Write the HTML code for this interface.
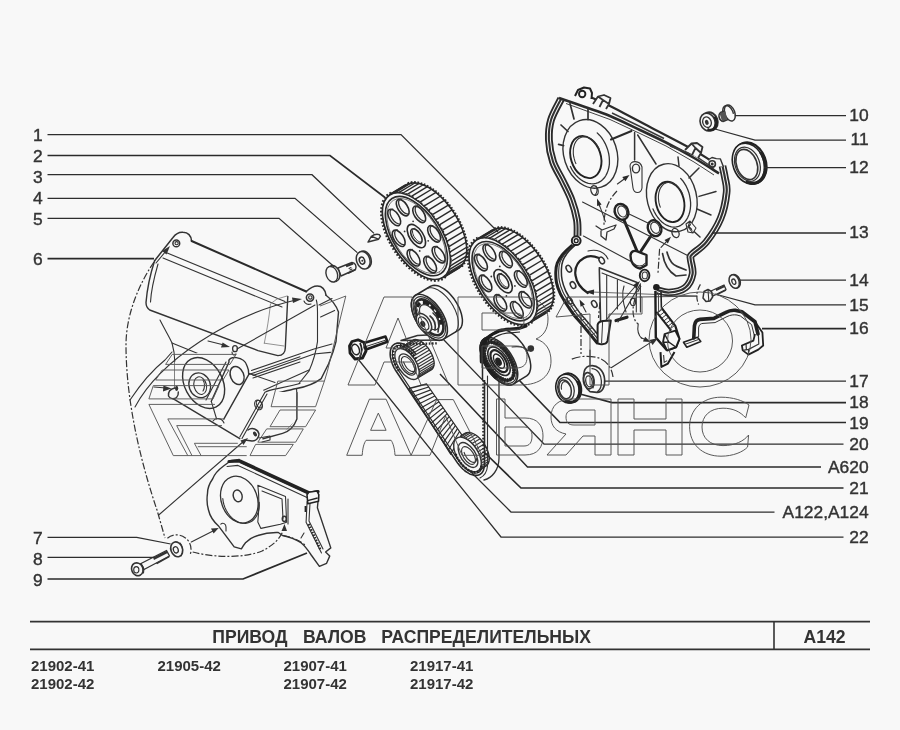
<!DOCTYPE html>
<html><head><meta charset="utf-8">
<style>
html,body{margin:0;padding:0;background:#f8f8f8;}
body{width:900px;height:730px;overflow:hidden;font-family:"Liberation Sans",sans-serif;}
svg{display:block;position:absolute;left:0;top:0;will-change:transform;}
text{font-family:"Liberation Sans",sans-serif;fill:#333;}
.lb{font-size:17.4px;stroke:#333;stroke-width:0.4;}
.ld{fill:none;stroke:#2e2e2e;stroke-width:1.25;}
.ldb{fill:none;stroke:#2a2a2a;stroke-width:1.7;}
.p{fill:none;stroke:#333;stroke-width:1.1;stroke-linejoin:round;stroke-linecap:round;}
.pf{fill:#f8f8f8;stroke:#333;stroke-width:1.1;stroke-linejoin:round;}
.pb{fill:none;stroke:#2a2a2a;stroke-width:2;stroke-linejoin:round;stroke-linecap:round;}
.pt{fill:none;stroke:#444;stroke-width:0.8;stroke-linejoin:round;stroke-linecap:round;}
.wm{fill:none;stroke:#505050;stroke-width:0.95;stroke-linejoin:round;}
.dash{fill:none;stroke:#333;stroke-width:1.2;stroke-dasharray:7 2 2 2;}
.bt{font-weight:bold;font-size:17.6px;}
.bc{font-weight:bold;font-size:15px;}
</style></head><body>
<svg width="900" height="730" viewBox="0 0 900 730">
<rect width="900" height="730" fill="#f8f8f8"/>

<!-- WATERMARK -->


<!-- PARTS -->
<g id="parts">
<path d="M154.6,260.7 L173,237.5 L183,232.3 L190.4,234.8 L191.6,241 L306,291.5 L317,286 L324.7,289 L326,295 L333.5,302 L338.5,312 L336,341.6 L328.6,363.8 L321,378.6 L296.6,388.5 L264.5,395.8 L250,372 L236,357 L226,361 L176,340 L160,320 L149.7,310 L146,302.6Z" fill="#f8f8f8"/>
<path class="p" style="stroke-width:1.5" d="M154.6,260.7 L173,237.5 C176,233.5 180,232 183,232.3 C188,232.5 191,235 191.6,241"/>
<circle class="p" cx="176.3" cy="243.4" r="3.4" style="stroke-width:1.5"/><circle class="p" cx="176.6" cy="243.2" r="1.6"/>
<path class="pb" d="M191.6,241 L306.2,291.5"/>
<path class="p" style="stroke-width:1.5" d="M306.2,291.5 C310,288 314,286 317.3,286 C322,286 325,289 326,295.2"/>
<circle class="p" cx="310" cy="297.6" r="3.6" style="stroke-width:1.6"/><circle class="p" cx="310.3" cy="297.4" r="1.7"/>
<path class="p" d="M304,301 C305,304 308,305 311,304"/>
<path class="p" d="M166,252.5 L285,301.5 M163,258 L282,307"/>
<path class="p" style="stroke-width:1.4" d="M154.6,260.7 C150,275 147,290 146,302.6 C146,306 147.5,308.5 149.7,310 L258,350.6 L277.9,355.6 C283,355.5 285.3,352 285.3,348 L287.8,296.4"/>
<path class="p" d="M158,264 C154,278 151,292 150.5,302"/>
<path class="pt" style="stroke:#777" d="M264.3,343.2 C267,330 269,318 270.5,303.8 L277,299 L287,296 M264.3,343.2 L284,346"/>
<path class="p" d="M160,320 C165,330 170,338 172,343 C174,350 174.8,356 174.8,362 L174.8,388"/>
<path class="p" d="M172,343 L236,369 L275,382.5"/>
<path class="p" style="stroke-width:1.4" d="M326,295.2 C331,299 336,305 338.5,312 L336,341.6 C334,350 331,358 328.6,363.8 L321.2,378.6 C314,384 305,387 296.6,388.5 C285,391 274,394 264.5,395.8"/>
<path class="p" d="M316.3,300 C317.5,304 317.5,308 317.5,312 L317.5,341.6 C316,352 313,362 308.9,371.2 L299,383.5"/>
<path class="p" d="M319,305 L332,298.6 M320.6,317 L334.6,310.4 M314,349 L332,344 M314,354 L330.5,352.4 M251.5,370.5 L314,349 M253,375.4 L314,354 M262,391 L309,370 M237,349 L315,305"/>
<path class="p" d="M296.6,388.5 C297,398 297,408 295.3,418 C291,426 285,431 279.3,432.8 L259.6,437.8"/>
<ellipse class="p" cx="235" cy="348.7" rx="2.4" ry="3" style="stroke-width:1.3"/>
<path class="p" d="M208,341 L224,345"/><path d="M230,347 L221,347.6 L222.6,342.6Z" fill="#333"/>
<path class="p" d="M232,352 C232,355 234,356 236,354"/>
<path d="M174.8,362 L174.8,388 L168.5,396 L173,398.6 L239.8,438.7 L254,440 L263,438.7 L282.6,433.4 L296.9,419 L296.9,392 L264.8,392 L248.7,374.6 L247,365.7 L236.3,357.6 L225.6,360.3 L200,352Z" fill="#f8f8f8"/>
<ellipse class="p" cx="203.6" cy="383" rx="27" ry="19" transform="rotate(62 203.6 383)" style="stroke-width:1.4"/>
<ellipse class="p" cx="199.7" cy="385.3" rx="12.6" ry="10.6" transform="rotate(70 199.7 385.3)" style="stroke-width:1.3"/>
<ellipse class="p" cx="200.2" cy="385.6" rx="9" ry="6.2" transform="rotate(75 200.2 385.6)" />
<path class="p" d="M203,380 C205,383 205,388 203,391"/>
<path class="p" style="stroke-width:1.4" d="M174.8,388 C170,389 168,392 168.5,396 C170,399 174,399.5 176.5,397.5 C178,396 178.5,394 178.3,392"/>
<ellipse cx="176.6" cy="388.3" rx="1.6" ry="2.6" fill="#333"/>
<path class="p" d="M154,387 L166,388"/><path d="M171.5,388.6 L163,391.4 L163.4,385.4Z" fill="#333"/>
<path class="p" style="stroke-width:1.4" d="M173,398.6 L239.8,438.7"/>
<path class="p" style="stroke-width:1.4" d="M211.3,401.3 L229,362 C228,359 232,357 236.3,357.6 C242,358.5 246,362 247,365.7 C248.5,369 249,372 248.7,374.6 L223.8,419.1"/>
<ellipse class="p" cx="237.1" cy="375.5" rx="6.6" ry="9.4" transform="rotate(-22 237.1 375.5)" style="stroke-width:1.5"/>
<path class="p" d="M226,362 L206,400 M211.3,401.3 L216.6,419 M213,421 C216,417 222,418 224,423"/>
<path class="p" d="M248.7,374.6 L300,356.7 M253,378 L300,362"/>
<path class="p" d="M264.8,392.4 C270,389 280,389 300,383.5 M264.8,392.4 L239.8,437 M267,394 L242,438.5"/>
<ellipse class="p" cx="258.5" cy="404.9" rx="3.6" ry="5" transform="rotate(-25 258.5 404.9)"/><ellipse class="p" cx="259.5" cy="404.5" rx="2.6" ry="4" transform="rotate(-25 258.5 404.9)"/>
<path class="p" style="stroke-width:1.4" d="M296.9,392.4 L296.9,419.1 C294,427 288,432 282.6,433.4 L263,438.7"/>
<path class="p" style="stroke-width:1.4" d="M248,430 C252,427 258,429 259,434 C259,438 256,441 252,441 L245,440"/>
<ellipse cx="255" cy="434" rx="1.7" ry="2.6" fill="#333" transform="rotate(-30 255 434)"/>
<path class="p" d="M259,438 L270,436 L270,440 L262,442"/>
<path d="M223.9,465.7 C218,470 214,475 212.6,479 C209,484 207.5,489 207.5,493.4 C206.5,500 207,505 208.5,510 C210,517 214,522 218.8,526.3 L234.2,546.8 L241.4,548.9 C243,546 244,544.5 245.5,542.7 C249,539 253,537 257.8,535.5 C265,533 272,532.3 278.3,532.5 L282.5,535.5 C290,537 296,539.5 301,542.7 C305,546 308,550 311.2,555 L319.4,566.4 L326.6,563.3 L329.7,556.1 L325.6,552 L330.8,547.9 L317.4,507.8 L318.4,497.5 L317.4,492.4 L309.2,494.4 L240.3,462.6 L239.3,459.5 L231.1,460.5Z" fill="#f8f8f8" stroke="#333" stroke-width="1.4" stroke-linejoin="round"/>
<path d="M229,461.5 L240,461 L309.5,493 L318,491.5" fill="none" stroke="#222" stroke-width="3.2" stroke-linejoin="round" stroke-linecap="round"/>
<path class="p" d="M227,466.5 L238,465.4 L307,497.4"/>
<ellipse class="p" cx="239.3" cy="499.6" rx="24" ry="18" transform="rotate(70 239.3 499.6)" style="stroke-width:1.3"/>
<path class="p" d="M259.2,502.4 L259.3,505.4 L259.1,508.3 L258.6,511 L257.7,513.6 L256.6,515.9 L255.2,518 L253.6,519.8 L251.8,521.2 L249.7,522.3 L247.6,523 L245.3,523.4 L242.9,523.3 L240.5,522.9 L238.2,522 L235.8,520.8 L233.6,519.3 L231.4,517.4 L229.5,515.3 L227.7,512.8 L226.2,510.2 L224.9,507.4 L223.9,504.5 L223.2,501.6 L222.8,498.6"/>
<ellipse class="p" cx="237.7" cy="495.9" rx="4.4" ry="6" transform="rotate(-15 237.7 495.9)" style="stroke-width:1.4"/>
<path class="p" d="M257.8,485.2 L285.5,496.5 L286.6,522.2 L280.4,524.2 L260.9,528.4 L257.8,522 C259,510 259.5,498 257.8,485.2Z M262,491 L282,499 L283,519"/>
<ellipse class="p" cx="284.3" cy="518.8" rx="2" ry="2.6" style="stroke-width:1.5"/>
<path class="p" d="M288,499 L288,524"/>
<path class="p" d="M220.8,524.2 C223,522 226,524 226,527 L226,531"/>
<path class="p" d="M307.1,501.6 L306.1,522.2 L321.5,553 M310,503 L309,521 L323,549"/>
<path d="M308.6,524 L320.4,549.6" fill="none" stroke="#2a2a2a" stroke-width="2.4" stroke-dasharray="1.6 1.3"/>
<path d="M307,494.7 L308.7,492.2 L316.9,491 L318.8,494.7 L318.5,501.3 L307.8,503.7Z" fill="#f8f8f8" stroke="#222" stroke-width="1.6" stroke-linejoin="round"/>
<path d="M307.6,500.6 L317.6,498" fill="none" stroke="#222" stroke-width="1.3"/>
<path d="M305.6,506 L305.6,512" fill="none" stroke="#222" stroke-width="2"/>
<path class="p" d="M301,538 L304,533"/>
<path class="dash" d="M154,262 C135,290 126,320 126,345 C126,400 140,460 157,510 L165,538"/>
<path class="p" d="M135,407 C160,360 230,315 296,300"/><path d="M302,299 L293,303 L292,297.5Z" fill="#333"/>
<path class="p" d="M156,263 L166,251"/><path d="M170,246 L166.5,254.5 L162,251Z" fill="#333"/>
<path class="p" d="M158.7,515 L244,441"/>
<path d="M248,438 L240.5,440.5 L243.5,445Z" fill="#333"/>
<path class="p" d="M130,400 C140,385 150,372 165,360 L172,352"/>
<path class="dash" d="M167.4,538.2 A14.5,14.5 0 0 1 189.8,555.4"/>
<path class="p" d="M191.3,542 L214,530.5"/><path d="M218.7,528 L211,528.6 L213.6,533.6Z" fill="#333"/>
<path class="dash" d="M192.7,552 C215,558 245,558 262,551 C274,545 281,538 284,528"/><path d="M284.5,524 L281.5,531 L287,531Z" fill="#333"/>
<path class="dash" d="M283,535.5 C292,537 300,541 305,545"/>
<ellipse class="pf" cx="176.7" cy="549.3" rx="5.8" ry="7.6" transform="rotate(-20 176.7 549.3)" style="stroke-width:1.6"/>
<path class="p" d="M180,543 C183,546 183.5,552 181,556"/>
<ellipse class="p" cx="175.8" cy="549.8" rx="2.4" ry="3.2" transform="rotate(-20 175.8 549.8)" style="stroke-width:1.3"/>
<path class="pf" style="stroke-width:1.4" d="M141,563.5 L166.5,550.5 L169.5,556 L144,569.5Z"/>
<path d="M153,557.5 L166.5,550.7 L167.7,553 L154,560Z M156,563 L168.8,556 L169.5,557.3 L157,564.3Z" fill="#333"/>
<ellipse class="pf" cx="137.3" cy="569.3" rx="5.6" ry="6.6" transform="rotate(-25 137.3 569.3)" style="stroke-width:1.6"/>
<path class="p" d="M140,563.5 C143,565 144.5,569 143.5,573"/>
<ellipse class="p" cx="136.3" cy="569.8" rx="2.6" ry="3.2"/>
<path d="M560,99 L577,91 L711,159 L722,161 C729,170 729,192 723,214 C716,232 708,243 693,255 L692,274 C690,284 684,290 670,291 L657,288 L640,300 L608,343 L598,343 C570,318 556,300 556,280 C556,265 562,250 576,238 C577,225 576,212 570,200 C560,185 548,160 547,140 C546,125 550,110 560,99Z" fill="#f8f8f8" stroke="none"/>
<path d="M561.2,98.7 C559.5,102.2 553,113.2 551,120 C549,126.8 548.6,132.9 548.9,139.8 C549.2,146.8 550.7,154.8 553,161.7 C555.3,168.5 559.5,174.5 562.6,180.9 C565.7,187.3 569.1,193.5 571.5,200 C573.9,206.5 576,214 577,220 C578,226 577.4,233.3 577.5,236" fill="none" stroke="#2a2a2a" stroke-width="7.8" stroke-linejoin="round" stroke-linecap="butt"/><path d="M561.2,98.7 C559.5,102.2 553,113.2 551,120 C549,126.8 548.6,132.9 548.9,139.8 C549.2,146.8 550.7,154.8 553,161.7 C555.3,168.5 559.5,174.5 562.6,180.9 C565.7,187.3 569.1,193.5 571.5,200 C573.9,206.5 576,214 577,220 C578,226 577.4,233.3 577.5,236" fill="none" stroke="#f8f8f8" stroke-width="4.06" stroke-linejoin="round" stroke-linecap="butt"/><path d="M561.2,98.7 C559.5,102.2 553,113.2 551,120 C549,126.8 548.6,132.9 548.9,139.8 C549.2,146.8 550.7,154.8 553,161.7 C555.3,168.5 559.5,174.5 562.6,180.9 C565.7,187.3 569.1,193.5 571.5,200 C573.9,206.5 576,214 577,220 C578,226 577.4,233.3 577.5,236" fill="none" stroke="#333" stroke-width="2.0599999999999996" stroke-linejoin="round"/>
<path d="M572.5,245 C570.9,246.5 565.5,251 563,254 C560.5,257 558.5,260 557.3,263 C556.1,266 555.9,268.7 555.8,272 C555.7,275.3 555.8,279.1 556.5,282.6 C557.2,286.1 558.4,289.4 560,293 C561.6,296.6 564.1,300.3 566.4,304 C568.7,307.7 571.3,311.4 574,315 C576.7,318.6 578.9,320.6 582.8,325.4 C586.7,330.1 595.1,340.5 597.6,343.5" fill="none" stroke="#222" stroke-width="3" stroke-linejoin="round"/>
<path d="M575.4,243.8 C573.8,245.3 568.4,249.8 565.9,252.8 C563.4,255.8 561.4,258.8 560.2,261.8 C559,264.8 558.8,267.5 558.7,270.8 C558.6,274.1 558.7,277.9 559.4,281.4 C560.1,284.9 561.2,288.2 562.9,291.8 C564.5,295.4 567,299.1 569.3,302.8 C571.6,306.5 574.2,310.2 576.9,313.8 C579.6,317.4 581.8,319.4 585.7,324.2 C589.6,328.9 598,339.3 600.5,342.3" fill="none" stroke="#333" stroke-width="1.1"/>
<path d="M578.1,242.6 C576.5,244.1 571.1,248.6 568.6,251.6 C566.1,254.6 564.1,257.6 562.9,260.6 C561.7,263.6 561.5,266.3 561.4,269.6 C561.3,272.9 561.4,276.7 562.1,280.2 C562.8,283.7 564,287 565.6,290.6 C567.2,294.2 569.7,297.9 572,301.6 C574.3,305.3 576.9,309 579.6,312.6 C582.3,316.2 584.5,318.2 588.4,323 C592.3,327.8 600.7,338.1 603.2,341.1" fill="none" stroke="#2a2a2a" stroke-width="1.5"/>
<line x1="566" y1="303" x2="571" y2="300" stroke="#333" stroke-width="0.9"/>
<line x1="569.6" y1="307.6" x2="574.6" y2="304.6" stroke="#333" stroke-width="0.9"/>
<line x1="573.2" y1="312.2" x2="578.2" y2="309.2" stroke="#333" stroke-width="0.9"/>
<line x1="576.8" y1="316.8" x2="581.8" y2="313.8" stroke="#333" stroke-width="0.9"/>
<line x1="580.4" y1="321.4" x2="585.4" y2="318.4" stroke="#333" stroke-width="0.9"/>
<line x1="584" y1="326" x2="589" y2="323" stroke="#333" stroke-width="0.9"/>
<line x1="587.6" y1="330.6" x2="592.6" y2="327.6" stroke="#333" stroke-width="0.9"/>
<line x1="591.2" y1="335.2" x2="596.2" y2="332.2" stroke="#333" stroke-width="0.9"/>
<path d="M722.5,166 C722.9,168 724.3,173.6 725,178 C725.7,182.4 727.4,185.9 726.6,192.7 C725.9,199.5 723.9,210.4 720.5,218.6 C717.1,226.8 711,236 706.3,242 C701.5,248 694.6,251.7 692,254.5 C689.4,257.3 690.5,255.8 690.6,259 C690.7,262.2 693.5,269.2 692.6,274 C691.7,278.8 689.2,284.5 685.3,287.6 C681.4,290.7 674,292.1 669.3,292.5 C664.6,292.9 659,290.4 657,290" fill="none" stroke="#2a2a2a" stroke-width="7.6" stroke-linejoin="round" stroke-linecap="butt"/><path d="M722.5,166 C722.9,168 724.3,173.6 725,178 C725.7,182.4 727.4,185.9 726.6,192.7 C725.9,199.5 723.9,210.4 720.5,218.6 C717.1,226.8 711,236 706.3,242 C701.5,248 694.6,251.7 692,254.5 C689.4,257.3 690.5,255.8 690.6,259 C690.7,262.2 693.5,269.2 692.6,274 C691.7,278.8 689.2,284.5 685.3,287.6 C681.4,290.7 674,292.1 669.3,292.5 C664.6,292.9 659,290.4 657,290" fill="none" stroke="#f8f8f8" stroke-width="4.199999999999999" stroke-linejoin="round" stroke-linecap="butt"/><path d="M722.5,166 C722.9,168 724.3,173.6 725,178 C725.7,182.4 727.4,185.9 726.6,192.7 C725.9,199.5 723.9,210.4 720.5,218.6 C717.1,226.8 711,236 706.3,242 C701.5,248 694.6,251.7 692,254.5 C689.4,257.3 690.5,255.8 690.6,259 C690.7,262.2 693.5,269.2 692.6,274 C691.7,278.8 689.2,284.5 685.3,287.6 C681.4,290.7 674,292.1 669.3,292.5 C664.6,292.9 659,290.4 657,290" fill="none" stroke="#333" stroke-width="2.1999999999999993" stroke-linejoin="round"/>
<path d="M559,98 C563.3,99.5 576.5,104 585,107 C593.5,110 600.8,112.2 610,116 C619.2,119.8 630.7,125.6 640,130 C649.3,134.4 656.8,137.8 666,142.5 C675.2,147.2 686.2,153.3 695,158.5 C703.8,163.7 715,171 719,173.5" fill="none" stroke="#2a2a2a" stroke-width="2.6" stroke-linejoin="round"/>
<path d="M590,97 C593,98.3 598,100 608,105 C618,110 636.3,119.8 650,127 C663.7,134.2 680,142.5 690,148 C700,153.5 706.7,158 710,160" fill="none" stroke="#2a2a2a" stroke-width="2.2" stroke-linejoin="round"/>
<path d="M612,113 L640,126.5 L664,138.5 M670,146 L694,155 L714,168.5" fill="none" stroke="#3a3a3a" stroke-width="1.5"/>
<path d="M566,103.5 L610,119.5 L640,133.5 L666,146 L694,162 L714,175" fill="none" stroke="#444" stroke-width="1"/>
<path class="pf" style="stroke-width:2;stroke:#222" d="M575,96 L578,90 L584,87.5 L590,88.5 L592,93 L591.5,99"/>
<path class="p" style="stroke-width:1.9;stroke:#222" d="M579,94 a3.2,3.2 0 1,0 6.4,0 a3.2,3.2 0 1,0 -6.4,0"/>
<path class="pf" style="stroke-width:1.8" d="M593,104 L598,96.5 L604,95 L610.5,98 L609,104 L606,109 M598,96.5 L603,100 L599.5,107 M603,100 L609,104"/>
<path class="pf" style="stroke-width:1.8" d="M685,150 L691.5,143.5 L697,143 L702.5,147 L701,153 L698,158 M691.5,143.5 L695.5,148 L692,155 M695.5,148 L701,153"/>
<path class="pf" style="stroke-width:1.4" d="M708,160 L712,157.5 L716.3,158.6 L720.4,158.9 L723.5,167"/>
<circle class="p" cx="712.2" cy="163.9" r="3.2" style="stroke-width:1.6"/><circle cx="712.2" cy="163.9" r="1.5" fill="#333"/>
<ellipse class="pf" cx="590.4" cy="153.9" rx="35" ry="26.5" transform="rotate(72 590.4 153.9)" style="stroke-width:1.4"/>
<path class="p" style="stroke-width:1.3" d="M597.2,132.9 L599.5,135.2 L601.6,137.7 L603.5,140.5 L605.2,143.6 L606.6,146.8 L607.8,150.1 L608.7,153.6 L609.2,157 L609.4,160.4 L609.4,163.8 L609,167 L608.2,170.1 L607.2,172.9 L605.9,175.5 L604.4,177.8 L602.5,179.8 L600.5,181.4 L598.3,182.6 L595.9,183.4 L593.4,183.8 L590.9,183.7 L588.3,183.3 L585.6,182.4 L583.1,181.1 L580.6,179.5 L578.2,177.5 L575.9,175.1 L573.8,172.5 L572,169.6 L570.4,166.5"/>
<ellipse class="pf" cx="585.8" cy="157" rx="21.6" ry="14.9" transform="rotate(72 585.8 157)" style="stroke-width:1.9;stroke:#222"/>
<path class="p" d="M575.9,163.6 L574.9,161.2 L574.2,158.7 L573.6,156.2 L573.3,153.6 L573.3,151.1 L573.4,148.7 L573.9,146.4 L574.5,144.3 L575.4,142.4 L576.5,140.7 L577.7,139.3 L579.2,138.2 L580.8,137.4 L582.5,136.9 L584.2,136.7 L586.1,136.9 L587.9,137.4 L589.8,138.2 L591.6,139.4 L593.4,140.8 L595,142.5 L596.5,144.4 L597.9,146.5 L599.1,148.8"/>
<ellipse class="pf" cx="671.8" cy="197.7" rx="34.5" ry="24.7" transform="rotate(76 671.8 197.7)" style="stroke-width:1.4"/>
<path class="p" style="stroke-width:1.3" d="M680.6,178.4 L682.7,180.7 L684.5,183.4 L686.2,186.2 L687.6,189.2 L688.8,192.4 L689.6,195.7 L690.2,199.1 L690.6,202.5 L690.6,205.8 L690.3,209 L689.7,212.1 L688.8,215 L687.7,217.6 L686.3,220 L684.6,222.1 L682.8,223.9 L680.8,225.3 L678.6,226.3 L676.3,226.9 L673.9,227.1 L671.4,226.9 L669,226.2 L666.6,225.2 L664.2,223.8 L661.9,222 L659.8,219.9 L657.8,217.5 L656,214.9 L654.4,212 L653,208.9"/>
<ellipse class="pf" cx="670" cy="201.9" rx="20.5" ry="14" transform="rotate(76 670 201.9)" style="stroke-width:1.9;stroke:#222"/>
<path class="p" d="M660.3,207.2 L659.5,204.8 L658.9,202.4 L658.6,200 L658.4,197.6 L658.5,195.2 L658.8,192.9 L659.4,190.8 L660.1,188.8 L661.1,187.1 L662.2,185.6 L663.4,184.3 L664.9,183.4 L666.4,182.7 L668,182.4 L669.7,182.3 L671.4,182.6 L673.1,183.2 L674.7,184.2 L676.4,185.3 L677.9,186.8 L679.3,188.5 L680.6,190.4 L681.8,192.5 L682.7,194.8"/>
<path class="p" style="stroke-width:1.7" d="M570,103.5 L574,119 M588,109 L588,119.5 M561,125 L568,131.5 M558.6,144.4 L563.6,145.6"/>
<path class="pb" d="M611,139.5 L631.5,131"/>
<path class="p" style="stroke-width:1.5" d="M634.6,132.5 L634.6,160 M637.7,135 L656,164 M678,157 L679,166 M699,168 L689,178 M716,191.5 L699,196.4 M711,215 L697,209 M700,237 L688,226"/>
<path class="pf" d="M630,166 C630,160 640,160 642,167 L642,188 C641,194 634,194 633,188 Z"/>
<ellipse class="p" cx="636" cy="168.5" rx="3.6" ry="4.4" style="stroke-width:1.4"/>
<ellipse class="pf" cx="621.5" cy="211.8" rx="6.6" ry="8.2" transform="rotate(-25 621.5 211.8)" style="stroke-width:2.4;stroke:#222"/>
<ellipse class="p" cx="622.2" cy="211.4" rx="4.2" ry="5.8" transform="rotate(-25 622.2 211.4)"/>
<ellipse class="pf" cx="654.6" cy="228.2" rx="6.6" ry="8.2" transform="rotate(-25 654.6 228.2)" style="stroke-width:2.4;stroke:#222"/>
<ellipse class="p" cx="655.2" cy="227.8" rx="4.2" ry="5.8" transform="rotate(-25 655.2 227.8)"/>
<path d="M624,220 L637,251 M650.5,236.5 L641,251" fill="none" stroke="#222" stroke-width="3" stroke-linecap="round"/>
<path d="M630.5,256 C630.5,251 634,250 638,251.6 L646.5,255 L646.5,265 L640,268.6 C634,267.6 630.5,262 630.5,256Z" fill="#f8f8f8" stroke="#222" stroke-width="2.4" stroke-linejoin="round"/>
<path class="p" d="M633,263 C637,267 642,267 645.6,263"/>
<ellipse class="pf" cx="644.6" cy="275.4" rx="4.8" ry="5.8" style="stroke-width:1.9;stroke:#222"/><ellipse class="p" cx="644.8" cy="275.4" rx="2.6" ry="3.4"/>
<ellipse class="p" cx="594.5" cy="190.5" rx="3.5" ry="5" transform="rotate(-20 594.5 190.5)" style="stroke-width:1.3"/>
<path class="p" d="M596,186 C598,189 597,193 595,195"/>
<ellipse class="p" cx="675.5" cy="233" rx="3.4" ry="4.8" transform="rotate(-20 675.5 233)" style="stroke-width:1.3"/>
<path class="pf" d="M686,224 L690,221 L696,228 L693,233 L688,232 Z M690,221 L688,227 L693,233"/>
<path class="p" style="stroke-width:1.3" d="M596,226 L602,230 L610,227 L616,225 L614,229 L607,232 L606,240 L601,236 L601,231"/>
<path class="p" style="stroke-width:1.7" d="M662.6,253.6 C664,264 668,271 676,276 L686,275 M667,252 C669,260 672,264.6 677,266.4 L686,270"/>
<path class="p" d="M582.5,202 L687.6,255.5 M583.4,236 L630,261 M627,213 L650,224"/>
<path d="M599,258 C593,255.6 588,255.6 584,258 C577,262 574.6,268 575.4,275 C576.4,282 580,288 587.8,293" fill="none" stroke="#222" stroke-width="2.2" stroke-linecap="round"/>
<path class="p" d="M588,251 C597,248.6 605,252 608,259"/>
<ellipse class="p" style="stroke-width:1.5" cx="568.8" cy="268.7" rx="2.4" ry="3.6" transform="rotate(-30 568.8 268.7)"/>
<ellipse class="p" style="stroke-width:1.5" cx="573" cy="285.1" rx="2.4" ry="3.6" transform="rotate(-30 573 285.1)"/>
<ellipse class="p" style="stroke-width:1.5" cx="569.7" cy="300.7" rx="2.4" ry="3.6" transform="rotate(-30 569.7 300.7)"/>
<ellipse class="p" style="stroke-width:1.5" cx="594.3" cy="304" rx="2.4" ry="3.6" transform="rotate(-30 594.3 304)"/>
<ellipse class="p" style="stroke-width:1.5" cx="601.7" cy="260.4" rx="2.4" ry="3.6" transform="rotate(-30 601.7 260.4)"/>
<circle class="pf" cx="576.2" cy="240.7" r="4.4" style="stroke-width:2;stroke:#222"/><circle cx="576.2" cy="240.7" r="1.9" fill="none" stroke="#222" stroke-width="1.4"/>
<path class="p" style="stroke-width:1.6" d="M599.3,267.8 L637.1,282.6 M599.3,267.8 L600.6,322"/>
<path class="p" d="M602,273 L635,286 M606.7,275 L606.7,320 M617.4,280 L617.4,309 M636.3,283 L636.3,312 M640.4,285 L640.4,312 M626,312 C622,300 622,292 624,286"/>
<path d="M597.6,325 C598,322 600,321.4 603,321 L610.8,320.5 L607.5,341 C606.6,343.6 604,344.6 600,344 L597.6,343.5Z" fill="#f8f8f8" stroke="#222" stroke-width="2" stroke-linejoin="round"/>
<path d="M602.6,322 L601.6,343" stroke="#333" stroke-width="1" fill="none"/>
<path d="M616,320.5 L627,317.2" stroke="#222" stroke-width="3.2" fill="none" stroke-linecap="round"/>
<ellipse class="p" cx="633" cy="302" rx="2.6" ry="3.6"/>
<path class="p" d="M617.4,184 L623.9,179.2"/><path d="M629.5,175 L625.4,181.3 L622.3,177.1Z" fill="#2a2a2a"/>
<path class="p" d="M605.3,221.7 C603,214 600,207 598.6,203"/><path class="p" d="M599.6,206 L599.3,205.2"/><path d="M597,198.6 L601.6,204.4 L597.1,206Z" fill="#2a2a2a"/>
<path class="p" d="M661,247.3 L666.2,241.8"/><path d="M671,236.7 L667.9,243.4 L664.5,240.1Z" fill="#2a2a2a"/>
<path class="dash" d="M617,191 C609,199 604,210 604,225"/>
<path class="dash" d="M659.6,248.8 L658,272.9"/>
<path class="pt" d="M697,296 L594,292.1"/><path d="M585,291.8 L594.1,289.5 L593.9,294.7Z" fill="#2a2a2a"/>
<path class="p" d="M586,312 L582.7,305.7"/><path d="M579.5,299.5 L584.9,304.6 L580.6,306.8Z" fill="#2a2a2a"/>
<path class="p" d="M606,320 L634.7,287"/><path d="M640,281 L636.7,288.7 L632.8,285.3Z" fill="#2a2a2a"/>
<path class="p" d="M618,322 L640.5,283.9"/><path d="M641,283 L640.6,283.9 L640.4,283.8Z" fill="#2a2a2a"/>
<path class="dash" d="M599.9,302.2 L598.5,318"/>
<path class="dash" d="M581,313 L581,354"/>
<path class="p" d="M638.2,324.1 C637,331 639,336 642,338.4"/><path class="p" d="M641,337.8 L644.1,339.1"/><path d="M650.5,341.9 L643,341.5 L645.1,336.7Z" fill="#2a2a2a"/>
<path class="dash" d="M641,286 C632,300 630,318 638.2,324.1"/>
<path class="p" d="M590,350 L590,366"/>
<ellipse class="pf" cx="735.2" cy="281.2" rx="4.8" ry="7" transform="rotate(-22 735.2 281.2)" style="stroke-width:1.5"/>
<ellipse class="pf" cx="734.2" cy="281.5" rx="4.8" ry="7" transform="rotate(-22 734.2 281.5)" style="stroke-width:1.5"/>
<ellipse class="p" cx="733.8" cy="281.7" rx="1.8" ry="2.8" transform="rotate(-22 733.8 281.7)" style="stroke-width:1.3"/>
<path class="pf" style="stroke-width:1.3" d="M711,291 L724,285 L726,289.6 L713,296Z"/>
<path d="M715.5,289 L724,285.2 L725,287 L716.4,291Z M717.6,293.4 L725.6,289.4 L726.2,290.8 L718.2,294.8Z" fill="#333"/>
<path class="pf" style="stroke-width:1.5" d="M704,291.5 L708,289.5 L711.5,291.5 L712.6,297 L710,301 L706,301.6 L703,298Z"/>
<path class="p" d="M708,289.5 L708.8,301"/>
<path class="dash" style="stroke-dasharray:6 2 2 2" d="M700.4,284.4 C696,292 696,298 698.6,304.6"/>
<path class="p" style="stroke-width:0.9" d="M640,297 L696.7,296.2"/>
<path d="M683.5,342.2 L697.5,337.3 L700.8,341.4 L686.8,347.2Z" fill="#f8f8f8" stroke="#222" stroke-width="1.6" stroke-linejoin="round"/>
<path d="M684.5,344.5 L698.5,339.5" stroke="#333" stroke-width="1" fill="none"/>
<path d="M693.8,338 L694.4,326 C695,321.5 697,319.6 700,319.4 L713.9,318.4 L725.4,312.6 C729,310.6 733,310 736,310.4 L741.9,311.8 L755,321.7 L758,334" fill="none" stroke="#222" stroke-width="3.6" stroke-linejoin="round" stroke-linecap="round"/>
<path d="M698.6,337 L698.6,328 C699,324.6 700.6,323.6 703,323.4 L715,322.6 L727,316.6 C730.6,314.8 734,314.6 737,315 L740.4,316 L751.6,324.6 L754.4,336" fill="none" stroke="#333" stroke-width="1" stroke-linejoin="round"/>
<path d="M755,321.7 L762.4,332.4 L763.2,345.5 L758.3,349.6 L748.4,354.6 L742.7,350.4 L741.9,345.5 L753.4,340.6 L755,334" fill="none" stroke="#222" stroke-width="1.8" stroke-linejoin="round"/>
<path d="M758.4,335 L758.8,344 L748.6,349.4 L748.4,354.6 M742.7,350.4 L748.6,349.4 M746,344 L746.4,349.6" fill="none" stroke="#333" stroke-width="1.2" stroke-linejoin="round"/>
<circle cx="656.4" cy="287.2" r="3.3" fill="#1e1e1e"/>
<path d="M655.4,291 L655.8,337.5 L667.1,350.4" stroke="#1e1e1e" stroke-width="2.4" fill="none" stroke-linejoin="round"/>
<path d="M661,292 L661.4,307.7" stroke="#222" stroke-width="1.6" fill="none"/>
<path d="M658.4,293 L658.6,312" stroke="#444" stroke-width="1" fill="none"/>
<path d="M661.4,307.7 L675.3,325.8 L679.4,338.9 L676.1,347.2 L667.1,350.4" fill="none" stroke="#1e1e1e" stroke-width="2.2" stroke-linejoin="round"/>
<path d="M656.4,311.8 L671.2,330.7" fill="none" stroke="#1e1e1e" stroke-width="2" />
<line x1="657.5" y1="313" x2="662.1" y2="309.4" stroke="#333" stroke-width="1"/>
<line x1="659.6" y1="315.7" x2="664.2" y2="312.1" stroke="#333" stroke-width="1"/>
<line x1="661.7" y1="318.3" x2="666.3" y2="314.7" stroke="#333" stroke-width="1"/>
<line x1="663.8" y1="321" x2="668.4" y2="317.4" stroke="#333" stroke-width="1"/>
<line x1="665.8" y1="323.7" x2="670.4" y2="320.1" stroke="#333" stroke-width="1"/>
<line x1="667.9" y1="326.3" x2="672.5" y2="322.7" stroke="#333" stroke-width="1"/>
<line x1="670" y1="329" x2="674.6" y2="325.4" stroke="#333" stroke-width="1"/>
<path d="M664.6,334 L675.3,330.7 L679.4,338.9 L676.1,347.2 L667.1,350.4 L663,342.2Z" fill="#f8f8f8" stroke="#1e1e1e" stroke-width="1.8" stroke-linejoin="round"/>
<path d="M664.6,334 L668.8,342 L676.1,347.2 M668.8,342 L663,342.2" fill="none" stroke="#222" stroke-width="1.4"/>
<path d="M660.5,352.1 L661.4,366.9 L667.9,363.6 L674.5,352.1" fill="none" stroke="#1e1e1e" stroke-width="2" stroke-linejoin="round"/>
<path d="M663.6,355 L664.2,362.4 L667.2,360.6" fill="none" stroke="#333" stroke-width="1.1"/>
<ellipse class="pf" cx="569.4" cy="388" rx="14.8" ry="11.6" transform="rotate(75 569.4 388)" style="stroke-width:2;stroke:#222"/>
<ellipse class="pf" cx="567.4" cy="388.6" rx="14.6" ry="11.4" transform="rotate(75 567.4 388.6)" style="stroke-width:1.6;stroke:#222"/>
<path d="M577.5,380.8 L578.4,382.5 L579.1,384.2 L579.6,386 L579.9,387.8 L580,389.6 L580,391.4 L579.7,393.2 L579.3,394.8 L578.7,396.4 L577.9,397.8 L577,399.1 L575.9,400.1 L574.7,401 L573.4,401.6 L572,402 L570.6,402.2 L569.1,402.1 L567.6,401.8 L566.2,401.3 L564.8,400.5" fill="none" stroke="#222" stroke-width="2.8"/>
<ellipse class="p" cx="566" cy="389" rx="11.8" ry="8" transform="rotate(75 566 389)" style="stroke-width:1.3"/>
<ellipse class="p" cx="565.1" cy="389.3" rx="9.6" ry="6" transform="rotate(75 565.1 389.3)" style="stroke-width:1.5"/>
<path class="p" d="M561.5,389.2 L561.3,387.5 L561.4,385.9 L561.7,384.5 L562.2,383.3 L562.9,382.4 L563.8,381.8 L564.7,381.6 L565.8,381.7 L566.8,382.2 L567.9,383.1 L568.8,384.2 L569.7,385.6"/>
<path class="pf" style="stroke-width:1.6" d="M589,366 C597,364 603.6,370 604.6,379 C605.4,387 602,392.6 597,392.4 L590,391.6 C585,388 583,381 583.6,375 C584,370 586,367 589,366Z"/>
<path class="p" style="stroke-width:1.3" d="M592,368.6 C598,369 601,375 601.4,381 C601.6,386 600,390 597.6,391.6"/>
<ellipse class="p" cx="588.6" cy="380.7" rx="8.2" ry="5.2" transform="rotate(80 588.6 380.7)" style="stroke-width:1.7"/>
<ellipse class="p" cx="589" cy="381.4" rx="5.6" ry="3.2" transform="rotate(80 589 381.4)" style="stroke-width:1.3"/>
<path class="p" d="M592,374 C594.6,377 595,384 593,388"/>
<path class="dash" style="stroke-dasharray:9 2 2 2" d="M571.8,359.1 C580,355.6 592,355.4 600,358.4 C608,362 612,369 613,377"/>
<path class="p" d="M611.2,367.7 L652,341.6"/><path d="M658,338 L649.4,340 L652.6,345Z" fill="#333"/>
<ellipse class="pf" cx="710" cy="121.4" rx="7.6" ry="9.2" transform="rotate(-20 710 121.4)" style="stroke-width:2"/>
<ellipse class="pf" cx="707.6" cy="122" rx="7.4" ry="9" transform="rotate(-20 707.6 122)" style="stroke-width:1.6"/>
<path d="M714.6,116.6 L715.3,117.8 L715.9,119 L716.3,120.4 L716.6,121.7 L716.6,123.1 L716.4,124.4 L716.1,125.7 L715.6,126.8 L714.9,127.9 L714.1,128.7 L713.1,129.3 L712.1,129.8 L710.9,130 L709.8,130 L708.6,129.8 L707.4,129.3" fill="none" stroke="#222" stroke-width="2.6"/>
<ellipse class="p" cx="707" cy="122.2" rx="4.2" ry="5.4" transform="rotate(-20 707 122.2)" style="stroke-width:1.3"/>
<ellipse cx="706.8" cy="122.4" rx="1.8" ry="2.6" fill="#333" transform="rotate(-20 706.8 122.4)"/>
<path class="pf" style="stroke-width:1.4" d="M720.5,112.5 L727,110 L729,119 L723,121.5 C720,121 718.6,116 720.5,112.5Z"/>
<ellipse class="pf" cx="722" cy="117" rx="2.8" ry="4.2" transform="rotate(-20 722 117)" style="stroke-width:1.6"/>
<ellipse class="pf" cx="729.8" cy="113" rx="5" ry="8.4" transform="rotate(-20 729.8 113)" style="stroke-width:1.5"/>
<path class="p" style="stroke-width:1.4" d="M724.1,116.7 L723.3,114.7 L722.8,112.7 L722.7,110.8 L722.9,109 L723.4,107.5 L724.3,106.4 L725.3,105.7 L726.6,105.5 L727.9,105.8 L729.3,106.7 L730.6,107.9 L731.7,109.5 L732.7,111.3 L733.3,113.3"/>
<path d="M719.6,113.5 L725.5,111.2 L727,119.4 L722,121.2Z" fill="#555"/>
<ellipse class="pf" cx="750.2" cy="163" rx="21.2" ry="15.6" transform="rotate(70 750.2 163)" style="stroke-width:2.2;stroke:#222"/>
<ellipse class="pf" cx="748.4" cy="163.6" rx="21" ry="15.4" transform="rotate(70 748.4 163.6)" style="stroke-width:1.6;stroke:#222"/>
<path d="M760.4,151.8 L761.6,153.6 L762.7,155.6 L763.5,157.6 L764.3,159.8 L764.8,161.9 L765.2,164.1 L765.3,166.3 L765.3,168.4 L765.1,170.5 L764.8,172.5 L764.2,174.4 L763.5,176.1 L762.6,177.7 L761.5,179.1 L760.3,180.3 L759,181.4 L757.6,182.2 L756,182.8 L754.4,183.1 L752.8,183.2 L751.1,183.1 L749.3,182.7 L747.6,182.1 L745.9,181.3" fill="none" stroke="#222" stroke-width="3.2"/>
<ellipse class="p" cx="747.4" cy="164.2" rx="17.6" ry="12.2" transform="rotate(70 747.4 164.2)" style="stroke-width:1.2"/>
<ellipse class="p" cx="746.8" cy="164.5" rx="15.6" ry="10.2" transform="rotate(70 746.8 164.5)" style="stroke-width:1.6"/>
<path class="p" style="stroke-width:1.3" d="M499,372 L499,458 C499,470 492,478 484,480"/>
<path d="M456.9,438.1 L458.6,437.4 L460.5,437.2 L462.7,437.5 L465,438.3 L467.4,439.6 L469.8,441.4 L472.1,443.5 L474.3,446 L476.3,448.8 L478,451.7 L479.4,454.7 L480.4,457.7 L481.1,460.6 L481.3,463.4 L481.1,465.8 L480.5,467.9 L479.5,469.6 L478.1,470.9 L486.1,466.1 L487.5,464.8 L488.5,463.1 L489.1,461 L489.3,458.6 L489.1,455.8 L488.4,452.9 L487.4,449.9 L486,446.9 L484.3,444 L482.3,441.2 L480.1,438.7 L477.8,436.6 L475.4,434.8 L473,433.5 L470.7,432.7 L468.5,432.4 L466.6,432.6 L464.9,433.3Z" fill="#f8f8f8" stroke="#2a2a2a" stroke-width="1.3"/>
<line x1="458.6" y1="437.4" x2="466.6" y2="432.6" stroke="#333" stroke-width="1.1"/>
<line x1="460.5" y1="437.2" x2="468.5" y2="432.4" stroke="#333" stroke-width="1.1"/>
<line x1="462.7" y1="437.5" x2="470.7" y2="432.7" stroke="#333" stroke-width="1.1"/>
<line x1="465" y1="438.3" x2="473" y2="433.5" stroke="#333" stroke-width="1.1"/>
<line x1="467.4" y1="439.6" x2="475.4" y2="434.8" stroke="#333" stroke-width="1.1"/>
<line x1="469.8" y1="441.4" x2="477.8" y2="436.6" stroke="#333" stroke-width="1.1"/>
<line x1="472.1" y1="443.5" x2="480.1" y2="438.7" stroke="#333" stroke-width="1.1"/>
<line x1="474.3" y1="446" x2="482.3" y2="441.2" stroke="#333" stroke-width="1.1"/>
<line x1="476.3" y1="448.8" x2="484.3" y2="444" stroke="#333" stroke-width="1.1"/>
<line x1="478" y1="451.7" x2="486" y2="446.9" stroke="#333" stroke-width="1.1"/>
<line x1="479.4" y1="454.7" x2="487.4" y2="449.9" stroke="#333" stroke-width="1.1"/>
<line x1="480.4" y1="457.7" x2="488.4" y2="452.9" stroke="#333" stroke-width="1.1"/>
<line x1="481.1" y1="460.6" x2="489.1" y2="455.8" stroke="#333" stroke-width="1.1"/>
<line x1="481.3" y1="463.4" x2="489.3" y2="458.6" stroke="#333" stroke-width="1.1"/>
<line x1="481.1" y1="465.8" x2="489.1" y2="461" stroke="#333" stroke-width="1.1"/>
<line x1="480.5" y1="467.9" x2="488.5" y2="463.1" stroke="#333" stroke-width="1.1"/>
<line x1="479.5" y1="469.6" x2="487.5" y2="464.8" stroke="#333" stroke-width="1.1"/>
<path d="M409,388.5 L426.6,384 L461.6,434.5 L450.7,454.2Z" fill="#f8f8f8" stroke="#2a2a2a" stroke-width="1.3" stroke-linejoin="round"/>
<line x1="411.5" y1="392.4" x2="428.7" y2="387" stroke="#2a2a2a" stroke-width="1.15"/>
<line x1="413.9" y1="396.2" x2="430.7" y2="389.9" stroke="#2a2a2a" stroke-width="1.15"/>
<line x1="416.4" y1="400.1" x2="432.8" y2="392.9" stroke="#2a2a2a" stroke-width="1.15"/>
<line x1="418.8" y1="404" x2="434.8" y2="395.9" stroke="#2a2a2a" stroke-width="1.15"/>
<line x1="421.3" y1="407.8" x2="436.9" y2="398.9" stroke="#2a2a2a" stroke-width="1.15"/>
<line x1="423.7" y1="411.7" x2="439" y2="401.8" stroke="#2a2a2a" stroke-width="1.15"/>
<line x1="426.2" y1="415.6" x2="441" y2="404.8" stroke="#2a2a2a" stroke-width="1.15"/>
<line x1="428.6" y1="419.4" x2="443.1" y2="407.8" stroke="#2a2a2a" stroke-width="1.15"/>
<line x1="431.1" y1="423.3" x2="445.1" y2="410.7" stroke="#2a2a2a" stroke-width="1.15"/>
<line x1="433.5" y1="427.1" x2="447.2" y2="413.7" stroke="#2a2a2a" stroke-width="1.15"/>
<line x1="436" y1="431" x2="449.2" y2="416.7" stroke="#2a2a2a" stroke-width="1.15"/>
<line x1="438.4" y1="434.9" x2="451.3" y2="419.6" stroke="#2a2a2a" stroke-width="1.15"/>
<line x1="440.9" y1="438.7" x2="453.4" y2="422.6" stroke="#2a2a2a" stroke-width="1.15"/>
<line x1="443.3" y1="442.6" x2="455.4" y2="425.6" stroke="#2a2a2a" stroke-width="1.15"/>
<line x1="445.8" y1="446.5" x2="457.5" y2="428.6" stroke="#2a2a2a" stroke-width="1.15"/>
<line x1="448.2" y1="450.3" x2="459.5" y2="431.5" stroke="#2a2a2a" stroke-width="1.15"/>
<path d="M398.9,348.7 L400.6,348.5 L402.5,348.8 L404.6,349.6 L406.7,350.8 L408.8,352.4 L410.8,354.4 L412.8,356.6 L414.5,359.1 L416.1,361.7 L417.4,364.4 L418.3,367.1 L418.9,369.7 L419.2,372.1 L419,374.3 L418.5,376.1 L417.7,377.6 L416.5,378.7 L431.5,369.7 L432.7,368.6 L433.5,367.1 L434,365.3 L434.2,363.1 L433.9,360.7 L433.3,358.1 L432.4,355.4 L431.1,352.7 L429.5,350.1 L427.8,347.6 L425.8,345.4 L423.8,343.4 L421.7,341.8 L419.6,340.6 L417.5,339.8 L415.6,339.5 L413.9,339.7Z" fill="#f8f8f8" stroke="#2a2a2a" stroke-width="1.3"/>
<line x1="400.6" y1="348.5" x2="415.6" y2="339.5" stroke="#333" stroke-width="1.15"/>
<line x1="402.5" y1="348.8" x2="417.5" y2="339.8" stroke="#333" stroke-width="1.15"/>
<line x1="404.6" y1="349.6" x2="419.6" y2="340.6" stroke="#333" stroke-width="1.15"/>
<line x1="406.7" y1="350.8" x2="421.7" y2="341.8" stroke="#333" stroke-width="1.15"/>
<line x1="408.8" y1="352.4" x2="423.8" y2="343.4" stroke="#333" stroke-width="1.15"/>
<line x1="410.8" y1="354.4" x2="425.8" y2="345.4" stroke="#333" stroke-width="1.15"/>
<line x1="412.8" y1="356.6" x2="427.8" y2="347.6" stroke="#333" stroke-width="1.15"/>
<line x1="414.5" y1="359.1" x2="429.5" y2="350.1" stroke="#333" stroke-width="1.15"/>
<line x1="416.1" y1="361.7" x2="431.1" y2="352.7" stroke="#333" stroke-width="1.15"/>
<line x1="417.4" y1="364.4" x2="432.4" y2="355.4" stroke="#333" stroke-width="1.15"/>
<line x1="418.3" y1="367.1" x2="433.3" y2="358.1" stroke="#333" stroke-width="1.15"/>
<line x1="418.9" y1="369.7" x2="433.9" y2="360.7" stroke="#333" stroke-width="1.15"/>
<line x1="419.2" y1="372.1" x2="434.2" y2="363.1" stroke="#333" stroke-width="1.15"/>
<line x1="419" y1="374.3" x2="434" y2="365.3" stroke="#333" stroke-width="1.15"/>
<line x1="418.5" y1="376.1" x2="433.5" y2="367.1" stroke="#333" stroke-width="1.15"/>
<line x1="417.7" y1="377.6" x2="432.7" y2="368.6" stroke="#333" stroke-width="1.15"/>
<path class="p" style="stroke-width:1.4" d="M401,340.5 L441,340 M401,340.5 L417.5,335.5 L447,334"/>
<path d="M400,344.5 L438,343.3" fill="none" stroke="#2a2a2a" stroke-width="2.4" stroke-dasharray="1.6 1.6"/>
<path d="M416,354.2 L414.5,352.4 L412.9,350.6 L411.2,349 L409.5,347.6 L407.7,346.3 L406,345.2 L404.2,344.4 L402.5,343.7 L400.8,343.3 L399.2,343.1 L397.7,343.1 L396.3,343.4 L395,343.8 L393.8,344.6 L392.8,345.5 L391.9,346.6 L391.2,347.9 L390.7,349.4 L390.4,351 L390.2,352.8 L390.2,354.7 L390.4,356.8 L390.8,358.8 L391.4,361 L392.1,363.2 L393,365.4 L394,367.6 L395.2,369.7 L456.6,461.6 L458,463.6 L459.5,465.5 L461.1,467.3 L462.7,469 L464.5,470.5 L466.2,471.8 L468,472.9 L469.7,473.9 L471.4,474.6 L473.1,475.1 L474.8,475.4 L476.3,475.4 L477.8,475.3 L479.1,474.8 L480.3,474.2 L481.4,473.4 L482.3,472.3 L483,471.1 L483.6,469.6 L484,468 L484.3,466.3 L484.5,466 L484.5,380" fill="none" stroke="#2a2a2a" stroke-width="1.6" stroke-linejoin="round"/>
<path d="M414.4,355.7 L413,354 L411.6,352.4 L410.1,351 L408.6,349.6 L407.1,348.5 L405.5,347.5 L404,346.7 L402.5,346 L401.1,345.6 L399.7,345.4 L398.4,345.4 L397.3,345.6 L396.2,345.9 L395.2,346.5 L394.4,347.3 L393.7,348.3 L393.1,349.4 L392.7,350.7 L392.5,352.1 L392.4,353.7 L392.4,355.4 L392.7,357.1 L393.1,359 L393.6,360.9 L394.3,362.8 L395.1,364.8 L396.1,366.7 L397.2,368.6 L458.4,460.4 L459.7,462.2 L461,463.9 L462.4,465.6 L463.9,467.1 L465.4,468.4 L466.9,469.7 L468.5,470.7 L470,471.6 L471.5,472.3 L472.9,472.8 L474.3,473.1 L475.6,473.1 L476.9,473 L478,472.7 L479,472.2 L479.9,471.5 L480.6,470.6 L481.2,469.5 L481.7,468.3" fill="none" stroke="#2a2a2a" stroke-width="1.1"/>
<path d="M483.5,380 L483.5,462" fill="none" stroke="#2a2a2a" stroke-width="2.6" stroke-dasharray="1.6 1.8"/>
<path class="p" d="M487.5,376 L487.5,466 C487,472 484,476 480,478"/>
<ellipse class="pf" cx="407" cy="364" rx="17.5" ry="9" transform="rotate(57 407 364)" style="stroke-width:1.3"/>
<ellipse class="p" cx="407.5" cy="364.5" rx="12" ry="6.6" transform="rotate(57 407.5 364.5)" style="stroke-width:1.3"/>
<ellipse class="p" cx="408" cy="365" rx="9.6" ry="5" transform="rotate(57 408 365)" />
<path class="p" d="M415.6,367.8 L415.5,369 L415.2,370.1 L414.7,370.9 L413.9,371.4 L412.9,371.6 L411.9,371.4 L410.7,371 L409.4,370.3 L408.2,369.3 L407,368.1 L405.9,366.7 L405,365.1 L404.2,363.6 L403.6,362"/>
<ellipse class="pf" cx="467.5" cy="454.5" rx="19.5" ry="10.5" transform="rotate(57 467.5 454.5)" style="stroke-width:1.4"/>
<ellipse class="p" cx="468" cy="455" rx="14" ry="7.4" transform="rotate(57 468 455)" style="stroke-width:1.4"/>
<ellipse class="p" cx="468.5" cy="455.5" rx="10" ry="5.2" transform="rotate(57 468.5 455.5)" />
<path class="p" d="M476.6,458.5 L476.5,459.8 L476.2,460.9 L475.6,461.7 L474.8,462.2 L473.8,462.4 L472.7,462.3 L471.4,461.8 L470.1,461.1 L468.9,460 L467.6,458.8 L466.5,457.3 L465.5,455.7 L464.7,454.1 L464.1,452.4"/>
<path d="M416.1,358.9 L414.9,357.2 L413.7,355.5 L412.4,353.9 L411,352.4 L409.6,351.1 L408.1,349.9 L406.6,348.8 L405.2,347.9 L403.7,347.2 L402.3,346.7 L401,346.4 L399.7,346.2 L398.5,346.3 L397.4,346.5 L396.4,347 L395.5,347.6 L394.7,348.4 L394.1,349.4 L393.6,350.5 L393.2,351.8 L393,353.2 L393,354.7 L393.1,356.4 L393.4,358.1 L393.8,359.9 L394.4,361.7 L395.1,363.6 L395.9,365.4 L396.8,367.3 L397.9,369.1 L399.1,370.8" fill="none" stroke="#222" stroke-width="2.6" stroke-dasharray="1.7 1.6"/>
<path d="M455.6,454.1 L456.4,455.9 L457.3,457.8 L458.4,459.6 L459.6,461.3 L460.8,463 L462.1,464.6 L463.5,466.1 L464.9,467.4 L466.4,468.6 L467.9,469.7 L469.3,470.6 L470.8,471.3 L472.2,471.8 L473.5,472.1 L474.8,472.3 L476,472.2 L477.1,472 L478.1,471.5 L479,470.9 L479.8,470.1 L480.4,469.1 L480.9,468 L481.3,466.7 L481.5,465.3" fill="none" stroke="#222" stroke-width="2.4" stroke-dasharray="1.7 1.6"/>
<path d="M406.1,185.1 L408,184.1 L410.2,183.4 L412.4,183 L414.9,182.9 L417.5,183.2 L420.2,183.8 L423,184.7 L425.8,186 L428.8,187.5 L431.7,189.4 L434.7,191.5 L437.6,193.9 L440.5,196.5 L443.4,199.3 L446.1,202.4 L448.8,205.7 L451.4,209.1 L453.8,212.6 L456,216.2 L458.1,219.9 L460,223.7 L461.6,227.5 L463.1,231.2 L464.3,235 L465.3,238.6 L466,242.2 L466.5,245.6 L466.7,248.9 L466.7,252.1 L466.4,255 L465.8,257.7 L465,260.2 L464,262.4 L462.7,264.3 L461.2,266 L459.5,267.3 L443.1,277.2 L441.2,278.2 L439,278.9 L436.8,279.3 L434.3,279.4 L431.7,279.1 L429,278.5 L426.2,277.6 L423.4,276.3 L420.4,274.8 L417.5,272.9 L414.5,270.8 L411.6,268.4 L408.7,265.8 L405.8,263 L403.1,259.9 L400.4,256.6 L397.8,253.2 L395.4,249.7 L393.2,246.1 L391.1,242.4 L389.2,238.6 L387.6,234.8 L386.1,231.1 L384.9,227.3 L383.9,223.7 L383.2,220.1 L382.7,216.7 L382.5,213.4 L382.5,210.2 L382.8,207.3 L383.4,204.6 L384.2,202.1 L385.2,199.9 L386.5,198 L388,196.3 L389.7,195Z" fill="#f8f8f8" stroke="#2a2a2a" stroke-width="1.6" stroke-linejoin="round"/>
<line x1="389.4" y1="194.6" x2="405.8" y2="184.7" stroke="#2a2a2a" stroke-width="1.45"/>
<line x1="392.3" y1="193.2" x2="408.7" y2="183.3" stroke="#2a2a2a" stroke-width="1.45"/>
<line x1="395.6" y1="192.4" x2="412" y2="182.5" stroke="#2a2a2a" stroke-width="1.45"/>
<line x1="399.2" y1="192.4" x2="415.6" y2="182.5" stroke="#2a2a2a" stroke-width="1.45"/>
<line x1="403.1" y1="193" x2="419.5" y2="183.1" stroke="#2a2a2a" stroke-width="1.45"/>
<line x1="407.2" y1="194.4" x2="423.6" y2="184.5" stroke="#2a2a2a" stroke-width="1.45"/>
<line x1="411.4" y1="196.3" x2="427.8" y2="186.4" stroke="#2a2a2a" stroke-width="1.45"/>
<line x1="415.7" y1="198.9" x2="432.1" y2="189" stroke="#2a2a2a" stroke-width="1.45"/>
<line x1="420" y1="202.1" x2="436.4" y2="192.2" stroke="#2a2a2a" stroke-width="1.45"/>
<line x1="424.3" y1="205.9" x2="440.7" y2="196" stroke="#2a2a2a" stroke-width="1.45"/>
<line x1="428.4" y1="210.1" x2="444.8" y2="200.2" stroke="#2a2a2a" stroke-width="1.45"/>
<line x1="432.4" y1="214.7" x2="448.8" y2="204.8" stroke="#2a2a2a" stroke-width="1.45"/>
<line x1="436.1" y1="219.6" x2="452.5" y2="209.7" stroke="#2a2a2a" stroke-width="1.45"/>
<line x1="439.4" y1="224.8" x2="455.8" y2="214.9" stroke="#2a2a2a" stroke-width="1.45"/>
<line x1="442.5" y1="230.2" x2="458.9" y2="220.3" stroke="#2a2a2a" stroke-width="1.45"/>
<line x1="445.1" y1="235.7" x2="461.5" y2="225.8" stroke="#2a2a2a" stroke-width="1.45"/>
<line x1="447.2" y1="241.2" x2="463.6" y2="231.3" stroke="#2a2a2a" stroke-width="1.45"/>
<line x1="448.9" y1="246.6" x2="465.3" y2="236.7" stroke="#2a2a2a" stroke-width="1.45"/>
<line x1="450.1" y1="251.9" x2="466.5" y2="242" stroke="#2a2a2a" stroke-width="1.45"/>
<line x1="450.7" y1="256.9" x2="467.1" y2="247" stroke="#2a2a2a" stroke-width="1.45"/>
<line x1="450.8" y1="261.5" x2="467.2" y2="251.6" stroke="#2a2a2a" stroke-width="1.45"/>
<line x1="450.3" y1="265.8" x2="466.7" y2="255.9" stroke="#2a2a2a" stroke-width="1.45"/>
<line x1="449.3" y1="269.6" x2="465.7" y2="259.7" stroke="#2a2a2a" stroke-width="1.45"/>
<line x1="447.8" y1="272.9" x2="464.2" y2="263" stroke="#2a2a2a" stroke-width="1.45"/>
<line x1="445.8" y1="275.5" x2="462.2" y2="265.6" stroke="#2a2a2a" stroke-width="1.45"/>
<line x1="443.4" y1="277.6" x2="459.8" y2="267.7" stroke="#2a2a2a" stroke-width="1.45"/>
<path d="M407.7,183.4 L409.5,182.7 L411.5,182.3 L413.6,182.1 L415.8,182.2 L418,182.5 L420.4,183.1 L422.8,183.9 L425.3,184.9 L427.9,186.2 L430.4,187.6 L433,189.3 L435.6,191.2 L438.1,193.3 L440.7,195.5 L443.1,198 L445.6,200.6 L447.9,203.3 L450.2,206.1 L452.4,209.1 L454.4,212.1 L456.4,215.3 L458.2,218.5 L459.9,221.7 L461.4,225 L462.8,228.2 L464,231.5 L465,234.7 L465.9,237.9 L466.6,241 L467.1,244.1 L467.4,247 L467.5,249.8 L467.4,252.5 L467.2,255.1 L466.7,257.4 L466.1,259.7 L465.2,261.7 L464.2,263.5 L463,265.2 L461.7,266.6" fill="none" stroke="#2a2a2a" stroke-width="2.2" stroke-dasharray="1.6 1.7"/>
<ellipse class="pf" cx="416.4" cy="236.1" rx="49" ry="25" transform="rotate(57 416.4 236.1)" style="stroke-width:1.5;stroke:#2a2a2a"/>
<path d="M445.6,276.8 L443.8,278.1 L441.9,279.2 L439.9,279.9 L437.6,280.4 L435.2,280.6 L432.7,280.4 L430.1,279.9 L427.4,279.2 L424.6,278.1 L421.7,276.8 L418.8,275.2 L415.9,273.3 L413,271.1 L410.1,268.7 L407.3,266.1 L404.5,263.3 L401.8,260.3 L399.2,257.1 L396.8,253.8 L394.4,250.4 L392.2,246.8 L390.2,243.2 L388.4,239.6 L386.7,235.9 L385.3,232.2 L384,228.6 L383,224.9 L382.3,221.4 L381.7,218 L381.4,214.7 L381.3,211.5 L381.5,208.6 L381.9,205.8 L382.6,203.2 L383.4,200.8 L384.6,198.7 L385.9,196.8 L387.4,195.2 L389.2,193.9 L391.1,192.9" fill="none" stroke="#2a2a2a" stroke-width="2.6" stroke-dasharray="1.7 1.9"/>
<path d="M391.4,193.4 L393.2,192.8 L395.1,192.4 L397.2,192.2 L399.4,192.3 L401.7,192.6 L404,193.2 L406.4,194 L408.9,195 L411.4,196.2 L414,197.7 L416.5,199.4 L419.1,201.3 L421.6,203.4 L424.1,205.6 L426.6,208 L429,210.6 L431.4,213.3 L433.6,216.2 L435.8,219.1 L437.9,222.2 L439.8,225.3 L441.6,228.5 L443.3,231.7 L444.8,234.9 L446.2,238.2 L447.4,241.4 L448.4,244.6 L449.3,247.8 L450,250.9 L450.5,253.9 L450.8,256.8 L450.9,259.7 L450.8,262.3 L450.6,264.9 L450.1,267.2 L449.5,269.4 L448.7,271.5 L447.7,273.3 L446.5,274.9 L445.2,276.3" fill="none" stroke="#2a2a2a" stroke-width="1.6" stroke-dasharray="1.7 1.9"/>
<ellipse class="p" cx="416.4" cy="236.1" rx="44.8" ry="22.9" transform="rotate(57 416.4 236.1)" style="stroke-width:1.6;stroke:#2a2a2a"/>
<ellipse class="p" cx="416.4" cy="236.1" rx="42.6" ry="21.8" transform="rotate(57 416.4 236.1)" style="stroke-width:0.7;stroke:#555"/>
<ellipse class="p" cx="430.1" cy="264.6" rx="9.3" ry="4.8" transform="rotate(57 430.1 264.6)" style="stroke-width:1.6;stroke:#2a2a2a"/>
<path class="p" style="stroke-width:1.3" d="M434.9,270.9 L433.7,270.7 L432.5,270.1 L431.2,269.2 L429.9,268 L428.7,266.6 L427.7,265 L426.9,263.4 L426.4,261.7 L426.1,260.2 L426.1,258.8 L426.4,257.7 L427,256.9 L427.8,256.4 L428.8,256.2"/>
<ellipse class="p" cx="413.6" cy="257.8" rx="9.3" ry="4.8" transform="rotate(57 413.6 257.8)" style="stroke-width:1.6;stroke:#2a2a2a"/>
<path class="p" style="stroke-width:1.3" d="M418.4,264.1 L417.2,263.9 L415.9,263.3 L414.6,262.4 L413.4,261.2 L412.2,259.8 L411.2,258.2 L410.4,256.6 L409.9,254.9 L409.6,253.4 L409.6,252 L409.9,250.9 L410.4,250.1 L411.3,249.6 L412.3,249.4"/>
<ellipse class="p" cx="398.7" cy="238.3" rx="9.3" ry="4.8" transform="rotate(57 398.7 238.3)" style="stroke-width:1.6;stroke:#2a2a2a"/>
<path class="p" style="stroke-width:1.3" d="M403.5,244.6 L402.3,244.4 L401,243.8 L399.7,242.9 L398.5,241.7 L397.3,240.3 L396.3,238.7 L395.5,237 L395,235.4 L394.7,233.9 L394.7,232.5 L395,231.4 L395.5,230.5 L396.4,230 L397.4,229.9"/>
<ellipse class="p" cx="394.2" cy="217.5" rx="9.3" ry="4.8" transform="rotate(57 394.2 217.5)" style="stroke-width:1.6;stroke:#2a2a2a"/>
<path class="p" style="stroke-width:1.3" d="M398.9,223.8 L397.8,223.6 L396.5,223 L395.2,222.1 L393.9,220.9 L392.8,219.5 L391.8,217.9 L391,216.3 L390.4,214.6 L390.1,213.1 L390.1,211.7 L390.4,210.6 L391,209.8 L391.8,209.3 L392.8,209.1"/>
<ellipse class="p" cx="402.7" cy="207.6" rx="9.3" ry="4.8" transform="rotate(57 402.7 207.6)" style="stroke-width:1.6;stroke:#2a2a2a"/>
<path class="p" style="stroke-width:1.3" d="M407.4,214 L406.2,213.7 L405,213.1 L403.7,212.2 L402.4,211 L401.3,209.6 L400.3,208 L399.5,206.4 L398.9,204.8 L398.6,203.2 L398.6,201.9 L398.9,200.7 L399.5,199.9 L400.3,199.4 L401.3,199.3"/>
<ellipse class="p" cx="419.2" cy="214.4" rx="9.3" ry="4.8" transform="rotate(57 419.2 214.4)" style="stroke-width:1.6;stroke:#2a2a2a"/>
<path class="p" style="stroke-width:1.3" d="M423.9,220.8 L422.8,220.6 L421.5,220 L420.2,219 L419,217.8 L417.8,216.4 L416.8,214.9 L416,213.2 L415.4,211.6 L415.2,210 L415.2,208.7 L415.5,207.5 L416,206.7 L416.8,206.2 L417.8,206.1"/>
<ellipse class="p" cx="434.1" cy="233.9" rx="9.3" ry="4.8" transform="rotate(57 434.1 233.9)" style="stroke-width:1.6;stroke:#2a2a2a"/>
<path class="p" style="stroke-width:1.3" d="M438.8,240.3 L437.7,240.1 L436.4,239.5 L435.1,238.6 L433.9,237.4 L432.7,235.9 L431.7,234.4 L430.9,232.7 L430.3,231.1 L430.1,229.6 L430.1,228.2 L430.4,227.1 L430.9,226.2 L431.7,225.7 L432.7,225.6"/>
<ellipse class="p" cx="438.6" cy="254.7" rx="9.3" ry="4.8" transform="rotate(57 438.6 254.7)" style="stroke-width:1.6;stroke:#2a2a2a"/>
<path class="p" style="stroke-width:1.3" d="M443.4,261.1 L442.2,260.8 L440.9,260.3 L439.6,259.3 L438.4,258.1 L437.2,256.7 L436.2,255.1 L435.4,253.5 L434.9,251.9 L434.6,250.3 L434.6,249 L434.9,247.8 L435.5,247 L436.3,246.5 L437.3,246.4"/>
<circle cx="419.7" cy="250.9" r="0.9" fill="#333"/>
<circle cx="404.6" cy="231.4" r="0.9" fill="#333"/>
<circle cx="413.1" cy="221.3" r="0.9" fill="#333"/>
<circle cx="428.2" cy="240.8" r="0.9" fill="#333"/>
<ellipse class="p" cx="416.4" cy="236.1" rx="13.2" ry="6.8" transform="rotate(57 416.4 236.1)" style="stroke-width:1.6;stroke:#2a2a2a"/>
<ellipse class="p" cx="416.4" cy="236.1" rx="8.3" ry="4.2" transform="rotate(57 416.4 236.1)" style="stroke-width:1.6;stroke:#2a2a2a"/>
<path class="p" style="stroke-width:1" d="M420.8,242.1 L419.7,241.9 L418.5,241.4 L417.3,240.5 L416.1,239.4 L415,238 L414,236.5 L413.3,235 L412.8,233.5 L412.5,232 L412.5,230.7 L412.8,229.7 L413.3,228.9 L414.1,228.4 L415,228.3"/>
<path d="M492.8,230.2 L494.7,229.2 L496.9,228.5 L499.1,228.1 L501.6,228 L504.2,228.3 L506.9,228.9 L509.7,229.8 L512.5,231.1 L515.5,232.6 L518.4,234.5 L521.4,236.6 L524.3,239 L527.2,241.6 L530.1,244.4 L532.8,247.5 L535.5,250.8 L538.1,254.2 L540.5,257.7 L542.7,261.3 L544.8,265 L546.7,268.8 L548.3,272.6 L549.8,276.3 L551,280.1 L552,283.7 L552.7,287.3 L553.2,290.7 L553.4,294 L553.4,297.2 L553.1,300.1 L552.5,302.8 L551.7,305.3 L550.7,307.5 L549.4,309.4 L547.9,311.1 L546.2,312.4 L529.8,322.3 L527.9,323.3 L525.7,324 L523.5,324.4 L521,324.5 L518.4,324.2 L515.7,323.6 L512.9,322.7 L510.1,321.4 L507.1,319.9 L504.2,318 L501.2,315.9 L498.3,313.5 L495.4,310.9 L492.5,308.1 L489.8,305 L487.1,301.7 L484.5,298.3 L482.1,294.8 L479.9,291.2 L477.8,287.5 L475.9,283.7 L474.3,279.9 L472.8,276.2 L471.6,272.4 L470.6,268.8 L469.9,265.2 L469.4,261.8 L469.2,258.5 L469.2,255.3 L469.5,252.4 L470.1,249.7 L470.9,247.2 L471.9,245 L473.2,243.1 L474.7,241.4 L476.4,240.1Z" fill="#f8f8f8" stroke="#2a2a2a" stroke-width="1.6" stroke-linejoin="round"/>
<line x1="476.1" y1="239.7" x2="492.5" y2="229.8" stroke="#2a2a2a" stroke-width="1.45"/>
<line x1="479" y1="238.3" x2="495.4" y2="228.4" stroke="#2a2a2a" stroke-width="1.45"/>
<line x1="482.3" y1="237.5" x2="498.7" y2="227.6" stroke="#2a2a2a" stroke-width="1.45"/>
<line x1="485.9" y1="237.5" x2="502.3" y2="227.6" stroke="#2a2a2a" stroke-width="1.45"/>
<line x1="489.8" y1="238.1" x2="506.2" y2="228.2" stroke="#2a2a2a" stroke-width="1.45"/>
<line x1="493.9" y1="239.5" x2="510.3" y2="229.6" stroke="#2a2a2a" stroke-width="1.45"/>
<line x1="498.1" y1="241.4" x2="514.5" y2="231.5" stroke="#2a2a2a" stroke-width="1.45"/>
<line x1="502.4" y1="244" x2="518.8" y2="234.1" stroke="#2a2a2a" stroke-width="1.45"/>
<line x1="506.7" y1="247.2" x2="523.1" y2="237.3" stroke="#2a2a2a" stroke-width="1.45"/>
<line x1="511" y1="251" x2="527.4" y2="241.1" stroke="#2a2a2a" stroke-width="1.45"/>
<line x1="515.1" y1="255.2" x2="531.5" y2="245.3" stroke="#2a2a2a" stroke-width="1.45"/>
<line x1="519.1" y1="259.8" x2="535.5" y2="249.9" stroke="#2a2a2a" stroke-width="1.45"/>
<line x1="522.8" y1="264.7" x2="539.2" y2="254.8" stroke="#2a2a2a" stroke-width="1.45"/>
<line x1="526.1" y1="269.9" x2="542.5" y2="260" stroke="#2a2a2a" stroke-width="1.45"/>
<line x1="529.2" y1="275.3" x2="545.6" y2="265.4" stroke="#2a2a2a" stroke-width="1.45"/>
<line x1="531.8" y1="280.8" x2="548.2" y2="270.9" stroke="#2a2a2a" stroke-width="1.45"/>
<line x1="533.9" y1="286.3" x2="550.3" y2="276.4" stroke="#2a2a2a" stroke-width="1.45"/>
<line x1="535.6" y1="291.7" x2="552" y2="281.8" stroke="#2a2a2a" stroke-width="1.45"/>
<line x1="536.8" y1="297" x2="553.2" y2="287.1" stroke="#2a2a2a" stroke-width="1.45"/>
<line x1="537.4" y1="302" x2="553.8" y2="292.1" stroke="#2a2a2a" stroke-width="1.45"/>
<line x1="537.5" y1="306.6" x2="553.9" y2="296.7" stroke="#2a2a2a" stroke-width="1.45"/>
<line x1="537" y1="310.9" x2="553.4" y2="301" stroke="#2a2a2a" stroke-width="1.45"/>
<line x1="536" y1="314.7" x2="552.4" y2="304.8" stroke="#2a2a2a" stroke-width="1.45"/>
<line x1="534.5" y1="318" x2="550.9" y2="308.1" stroke="#2a2a2a" stroke-width="1.45"/>
<line x1="532.5" y1="320.6" x2="548.9" y2="310.7" stroke="#2a2a2a" stroke-width="1.45"/>
<line x1="530.1" y1="322.7" x2="546.5" y2="312.8" stroke="#2a2a2a" stroke-width="1.45"/>
<path d="M494.4,228.5 L496.2,227.8 L498.2,227.4 L500.3,227.2 L502.5,227.3 L504.7,227.6 L507.1,228.2 L509.5,229 L512,230 L514.6,231.3 L517.1,232.7 L519.7,234.4 L522.3,236.3 L524.8,238.4 L527.4,240.6 L529.8,243.1 L532.3,245.7 L534.6,248.4 L536.9,251.2 L539.1,254.2 L541.1,257.2 L543.1,260.4 L544.9,263.6 L546.6,266.8 L548.1,270.1 L549.5,273.3 L550.7,276.6 L551.7,279.8 L552.6,283 L553.3,286.1 L553.8,289.2 L554.1,292.1 L554.2,294.9 L554.1,297.6 L553.9,300.2 L553.4,302.5 L552.8,304.8 L551.9,306.8 L550.9,308.6 L549.7,310.3 L548.4,311.7" fill="none" stroke="#2a2a2a" stroke-width="2.2" stroke-dasharray="1.6 1.7"/>
<ellipse class="pf" cx="503.1" cy="281.2" rx="49" ry="25" transform="rotate(57 503.1 281.2)" style="stroke-width:1.5;stroke:#2a2a2a"/>
<path d="M532.3,321.9 L530.5,323.2 L528.6,324.3 L526.6,325 L524.3,325.5 L521.9,325.7 L519.4,325.5 L516.8,325 L514.1,324.3 L511.3,323.2 L508.4,321.9 L505.5,320.3 L502.6,318.4 L499.7,316.2 L496.8,313.8 L494,311.2 L491.2,308.4 L488.5,305.4 L485.9,302.2 L483.5,298.9 L481.1,295.5 L478.9,291.9 L476.9,288.3 L475.1,284.7 L473.4,281 L472,277.3 L470.7,273.7 L469.7,270 L469,266.5 L468.4,263.1 L468.1,259.8 L468,256.6 L468.2,253.7 L468.6,250.9 L469.3,248.3 L470.1,245.9 L471.3,243.8 L472.6,241.9 L474.1,240.3 L475.9,239 L477.8,238" fill="none" stroke="#2a2a2a" stroke-width="2.6" stroke-dasharray="1.7 1.9"/>
<path d="M478.1,238.5 L479.9,237.9 L481.8,237.5 L483.9,237.3 L486.1,237.4 L488.4,237.7 L490.7,238.3 L493.1,239.1 L495.6,240.1 L498.1,241.3 L500.7,242.8 L503.2,244.5 L505.8,246.4 L508.3,248.5 L510.8,250.7 L513.3,253.1 L515.7,255.7 L518.1,258.4 L520.3,261.3 L522.5,264.2 L524.6,267.3 L526.5,270.4 L528.3,273.6 L530,276.8 L531.5,280 L532.9,283.3 L534.1,286.5 L535.1,289.7 L536,292.9 L536.7,296 L537.2,299 L537.5,301.9 L537.6,304.8 L537.5,307.4 L537.3,310 L536.8,312.3 L536.2,314.5 L535.4,316.6 L534.4,318.4 L533.2,320 L531.9,321.4" fill="none" stroke="#2a2a2a" stroke-width="1.6" stroke-dasharray="1.7 1.9"/>
<ellipse class="p" cx="503.1" cy="281.2" rx="44.8" ry="22.9" transform="rotate(57 503.1 281.2)" style="stroke-width:1.6;stroke:#2a2a2a"/>
<ellipse class="p" cx="503.1" cy="281.2" rx="42.6" ry="21.8" transform="rotate(57 503.1 281.2)" style="stroke-width:0.7;stroke:#555"/>
<ellipse class="p" cx="516.8" cy="309.7" rx="9.3" ry="4.8" transform="rotate(57 516.8 309.7)" style="stroke-width:1.6;stroke:#2a2a2a"/>
<path class="p" style="stroke-width:1.3" d="M521.6,316 L520.4,315.8 L519.2,315.2 L517.9,314.3 L516.6,313.1 L515.4,311.7 L514.4,310.1 L513.6,308.5 L513.1,306.8 L512.8,305.3 L512.8,303.9 L513.1,302.8 L513.7,302 L514.5,301.5 L515.5,301.3"/>
<ellipse class="p" cx="500.3" cy="302.9" rx="9.3" ry="4.8" transform="rotate(57 500.3 302.9)" style="stroke-width:1.6;stroke:#2a2a2a"/>
<path class="p" style="stroke-width:1.3" d="M505.1,309.2 L503.9,309 L502.6,308.4 L501.3,307.5 L500.1,306.3 L498.9,304.9 L497.9,303.3 L497.1,301.7 L496.6,300 L496.3,298.5 L496.3,297.1 L496.6,296 L497.1,295.2 L498,294.7 L499,294.5"/>
<ellipse class="p" cx="485.4" cy="283.4" rx="9.3" ry="4.8" transform="rotate(57 485.4 283.4)" style="stroke-width:1.6;stroke:#2a2a2a"/>
<path class="p" style="stroke-width:1.3" d="M490.2,289.7 L489,289.5 L487.7,288.9 L486.4,288 L485.2,286.8 L484,285.4 L483,283.8 L482.2,282.1 L481.7,280.5 L481.4,279 L481.4,277.6 L481.7,276.5 L482.2,275.6 L483.1,275.1 L484.1,275"/>
<ellipse class="p" cx="480.9" cy="262.6" rx="9.3" ry="4.8" transform="rotate(57 480.9 262.6)" style="stroke-width:1.6;stroke:#2a2a2a"/>
<path class="p" style="stroke-width:1.3" d="M485.6,268.9 L484.5,268.7 L483.2,268.1 L481.9,267.2 L480.6,266 L479.5,264.6 L478.5,263 L477.7,261.4 L477.1,259.7 L476.8,258.2 L476.8,256.8 L477.1,255.7 L477.7,254.9 L478.5,254.4 L479.5,254.2"/>
<ellipse class="p" cx="489.4" cy="252.7" rx="9.3" ry="4.8" transform="rotate(57 489.4 252.7)" style="stroke-width:1.6;stroke:#2a2a2a"/>
<path class="p" style="stroke-width:1.3" d="M494.1,259.1 L492.9,258.8 L491.7,258.2 L490.4,257.3 L489.1,256.1 L488,254.7 L487,253.1 L486.2,251.5 L485.6,249.9 L485.3,248.3 L485.3,247 L485.6,245.8 L486.2,245 L487,244.5 L488,244.4"/>
<ellipse class="p" cx="505.9" cy="259.5" rx="9.3" ry="4.8" transform="rotate(57 505.9 259.5)" style="stroke-width:1.6;stroke:#2a2a2a"/>
<path class="p" style="stroke-width:1.3" d="M510.6,265.9 L509.5,265.7 L508.2,265.1 L506.9,264.1 L505.7,262.9 L504.5,261.5 L503.5,260 L502.7,258.3 L502.1,256.7 L501.9,255.1 L501.9,253.8 L502.2,252.6 L502.7,251.8 L503.5,251.3 L504.5,251.2"/>
<ellipse class="p" cx="520.8" cy="279" rx="9.3" ry="4.8" transform="rotate(57 520.8 279)" style="stroke-width:1.6;stroke:#2a2a2a"/>
<path class="p" style="stroke-width:1.3" d="M525.5,285.4 L524.4,285.2 L523.1,284.6 L521.8,283.7 L520.6,282.5 L519.4,281 L518.4,279.5 L517.6,277.8 L517,276.2 L516.8,274.7 L516.8,273.3 L517.1,272.2 L517.6,271.3 L518.4,270.8 L519.4,270.7"/>
<ellipse class="p" cx="525.3" cy="299.8" rx="9.3" ry="4.8" transform="rotate(57 525.3 299.8)" style="stroke-width:1.6;stroke:#2a2a2a"/>
<path class="p" style="stroke-width:1.3" d="M530.1,306.2 L528.9,305.9 L527.6,305.4 L526.3,304.4 L525.1,303.2 L523.9,301.8 L522.9,300.2 L522.1,298.6 L521.6,297 L521.3,295.4 L521.3,294.1 L521.6,292.9 L522.2,292.1 L523,291.6 L524,291.5"/>
<circle cx="506.4" cy="296" r="0.9" fill="#333"/>
<circle cx="491.3" cy="276.5" r="0.9" fill="#333"/>
<circle cx="499.8" cy="266.4" r="0.9" fill="#333"/>
<circle cx="514.9" cy="285.9" r="0.9" fill="#333"/>
<ellipse class="p" cx="503.1" cy="281.2" rx="13.2" ry="6.8" transform="rotate(57 503.1 281.2)" style="stroke-width:1.6;stroke:#2a2a2a"/>
<ellipse class="p" cx="503.1" cy="281.2" rx="8.3" ry="4.2" transform="rotate(57 503.1 281.2)" style="stroke-width:1.6;stroke:#2a2a2a"/>
<path class="p" style="stroke-width:1" d="M507.5,287.2 L506.4,287 L505.2,286.5 L504,285.6 L502.8,284.5 L501.7,283.1 L500.7,281.6 L500,280.1 L499.5,278.6 L499.2,277.1 L499.2,275.8 L499.5,274.8 L500,274 L500.8,273.5 L501.7,273.4"/>
<path d="M430.2,286.5 L431.5,285.9 L432.9,285.5 L434.4,285.3 L436,285.4 L437.7,285.8 L439.5,286.4 L441.3,287.3 L443.2,288.3 L445.1,289.6 L447,291.1 L448.8,292.8 L450.6,294.7 L452.3,296.7 L454,298.8 L455.5,301.1 L456.9,303.4 L458.2,305.8 L459.4,308.2 L460.3,310.6 L461.1,312.9 L461.7,315.3 L462.1,317.5 L462.4,319.7 L462.4,321.7 L462.2,323.6 L461.9,325.3 L461.3,326.8 L460.6,328.1 L459.6,329.2 L458.6,330.1 L443.6,339.1 L442.3,339.7 L440.9,340.1 L439.4,340.3 L437.8,340.2 L436.1,339.8 L434.3,339.2 L432.5,338.3 L430.6,337.3 L428.7,336 L426.8,334.5 L425,332.8 L423.2,330.9 L421.5,328.9 L419.8,326.8 L418.3,324.5 L416.9,322.2 L415.6,319.8 L414.4,317.4 L413.5,315 L412.7,312.7 L412.1,310.3 L411.7,308.1 L411.4,305.9 L411.4,303.9 L411.6,302 L411.9,300.3 L412.5,298.8 L413.2,297.5 L414.2,296.4 L415.2,295.5Z" fill="#f8f8f8" stroke="#2a2a2a" stroke-width="1.5" stroke-linejoin="round"/>
<ellipse class="pf" cx="429.4" cy="317.3" rx="26" ry="13.3" transform="rotate(57 429.4 317.3)" style="stroke-width:1.6;stroke:#2a2a2a"/>
<ellipse class="p" cx="429.4" cy="317.3" rx="23.4" ry="11.9" transform="rotate(57 429.4 317.3)" style="stroke-width:1.2;stroke:#333"/>
<ellipse class="p" cx="429.4" cy="317.3" rx="20.3" ry="10.3" transform="rotate(57 429.4 317.3)" style="stroke-width:2.6;stroke:#2a2a2a"/>
<ellipse class="p" cx="429.4" cy="317.3" rx="14.3" ry="7.3" transform="rotate(57 429.4 317.3)" style="stroke-width:1.2;stroke:#333"/>
<path class="p" d="M427.3,288.3 L428.5,287.9 L429.9,287.7 L431.4,287.8 L433,288 L434.7,288.5 L436.4,289.2 L438.2,290.1 L439.9,291.2 L441.7,292.5 L443.5,294 L445.2,295.6 L446.9,297.4 L448.6,299.3 L450.1,301.3 L451.6,303.5 L452.9,305.6 L454.1,307.9 L455.2,310.1 L456.1,312.4 L456.9,314.7 L457.6,316.9 L458,319 L458.3,321.1 L458.4,323.1 L458.4,324.9 L458.1,326.6 L457.7,328.2 L457.1,329.6 L456.4,330.8 L455.5,331.8"/>
<path d="M417.6,307.2 L417.9,305.8 L418.5,304.6 L419.2,303.7 L420.1,302.9 L421.1,302.4 L422.3,302.2 L423.6,302.2 L425,302.4 L426.5,303 L428,303.7 L429.6,304.7 L431.1,306 L432.6,307.4 L434.1,309 L435.5,310.7 L436.8,312.5 L437.9,314.4 L438.9,316.4 L439.8,318.4 L440.4,320.4 L440.9,322.3 L441.2,324.1 L441.3,325.8 L441.2,327.4" fill="none" stroke="#222" stroke-width="3.4" stroke-dasharray="5 3 7 2"/>
<ellipse class="pf" cx="424" cy="323" rx="10.5" ry="6.2" transform="rotate(57 424 323)" style="stroke-width:1.5"/>
<ellipse class="p" cx="423.6" cy="323.4" rx="7.4" ry="4.2" transform="rotate(57 423.6 323.4)" style="stroke-width:1.2"/>
<ellipse cx="422.8" cy="323.8" rx="2.4" ry="3.2" fill="#2a2a2a" transform="rotate(-25 422.8 323.8)"/>
<path class="p" style="stroke-width:1.6" d="M430,316 C434,319 436,324 435,330 M433,313 C438,317 440,324 438,332"/>
<path d="M497.3,330.6 L498.6,329.9 L500,329.5 L501.6,329.3 L503.3,329.5 L505,329.8 L506.9,330.5 L508.8,331.4 L510.7,332.5 L512.7,333.8 L514.7,335.4 L516.6,337.1 L518.4,339.1 L520.2,341.2 L522,343.4 L523.6,345.7 L525,348.1 L526.4,350.6 L527.5,353.1 L528.5,355.6 L529.4,358 L530,360.4 L530.4,362.8 L530.7,365 L530.7,367.1 L530.5,369.1 L530.1,370.8 L529.6,372.4 L528.8,373.8 L527.8,374.9 L526.7,375.8 L513.7,383.8 L512.4,384.5 L511,384.9 L509.4,385.1 L507.7,384.9 L506,384.6 L504.1,383.9 L502.2,383 L500.3,381.9 L498.3,380.6 L496.3,379 L494.4,377.3 L492.6,375.3 L490.8,373.2 L489,371 L487.4,368.7 L486,366.3 L484.6,363.8 L483.5,361.3 L482.5,358.8 L481.6,356.4 L481,354 L480.6,351.6 L480.3,349.4 L480.3,347.3 L480.5,345.3 L480.9,343.6 L481.4,342 L482.2,340.6 L483.2,339.5 L484.3,338.6Z" fill="#f8f8f8" stroke="#2a2a2a" stroke-width="1.5" stroke-linejoin="round"/>
<ellipse class="pf" cx="499" cy="361.2" rx="27" ry="13.8" transform="rotate(57 499 361.2)" style="stroke-width:1.6;stroke:#2a2a2a"/>
<ellipse class="p" cx="499" cy="361.2" rx="25.1" ry="12.8" transform="rotate(57 499 361.2)" style="stroke-width:1.2;stroke:#333"/>
<ellipse class="p" cx="499" cy="361.2" rx="21.6" ry="11" transform="rotate(57 499 361.2)" style="stroke-width:3.2;stroke:#2a2a2a"/>
<ellipse class="p" cx="499" cy="361.2" rx="16.2" ry="8.3" transform="rotate(57 499 361.2)" style="stroke-width:1.6;stroke:#2a2a2a"/>
<ellipse class="p" cx="499" cy="361.2" rx="12.4" ry="6.3" transform="rotate(57 499 361.2)" style="stroke-width:2.2;stroke:#222"/>
<ellipse class="p" cx="499" cy="361.2" rx="8.1" ry="4.1" transform="rotate(57 499 361.2)" style="stroke-width:1.4;stroke:#222"/>
<path d="M510.8,379.3 L509.2,380 L507.3,380.3 L505.3,380.1 L503.1,379.4 L500.8,378.3 L498.4,376.7 L496.1,374.8 L493.8,372.5 L491.7,370 L489.7,367.2 L488,364.3 L486.6,361.3 L485.4,358.3 L484.6,355.4 L484.1,352.6 L484,350.1 L484.3,347.8 L485,345.8 L485.9,344.2 L487.2,343.1 L488.8,342.4 L490.7,342.1 L492.7,342.3 L494.9,343 L497.2,344.1 L499.6,345.7 L501.9,347.6 L504.2,349.9 L506.3,352.4 L508.3,355.2 L510,358.1 L511.4,361.1 L512.6,364.1 L513.4,367 L513.9,369.8 L514,372.3 L513.7,374.6 L513,376.6 L512.1,378.2Z" fill="none" stroke="#222" stroke-width="4" stroke-dasharray="1.2 1.5"/>
<ellipse cx="498.5" cy="361.8" rx="3" ry="4.4" fill="#222" transform="rotate(-25 498.5 361.8)"/>
<path d="M496.4,378.5 L494.2,376.5 L492.1,374.3 L490.1,371.8 L488.3,369.3 L486.6,366.5 L485.1,363.8 L483.7,360.9 L482.7,358.1 L481.8,355.4 L481.2,352.7 L480.9,350.1 L480.9,347.7 L481.1,345.5 L481.6,343.6 L482.3,341.9 L483.3,340.5 L484.5,339.4 L486,338.6 L487.6,338.2 L489.4,338.1" fill="none" stroke="#222" stroke-width="3" />
<circle cx="530.8" cy="348.6" r="3.3" fill="#333"/>
<path class="p" d="M512,347 C520,346 526,348 528,351"/>
<path d="M481.4,362 L481.2,355.7 C481.6,350 482.6,346.4 484.2,343.6 C486,339.4 489,336 493,333.8 C497,331.4 501.6,330 506.2,329.4 L519.3,328.3 L526,326" fill="none" stroke="#1e1e1e" stroke-width="3.2" stroke-linecap="round" stroke-linejoin="round"/>
<path d="M485.6,352 C486.4,347 488.6,342.6 492,339.4 C496,336 501,334 506.6,333.2 L520,332" fill="none" stroke="#2a2a2a" stroke-width="1.2"/>
<path d="M482.5,380 L482.5,358" fill="none" stroke="#2a2a2a" stroke-width="1.5"/>
<path d="M496.6,377.2 L494.4,375.2 L492.4,373 L490.4,370.6 L488.6,368 L486.9,365.2 L485.5,362.5 L484.3,359.7 L483.4,356.9 L482.7,354.2 L482.3,351.6 L482.2,349.1 L482.3,346.9 L482.8,345 L483.5,343.3 L484.5,341.9 L485.8,340.8 L487.2,340.1 L488.9,339.8 L490.8,339.8 L492.7,340.2" fill="none" stroke="#1e1e1e" stroke-width="2.2" stroke-dasharray="1.4 1.2"/>
<path d="M364,343 L385.5,336.6 L387.5,341.8 L366,349.5Z" fill="#f8f8f8" stroke="#1e1e1e" stroke-width="2.6" stroke-linejoin="round"/>
<path d="M366,346.5 L386,340" stroke="#333" stroke-width="1" fill="none"/>
<path d="M352,341.5 L358,339.8 L364,342.5 L366,351 L362.5,358 L355,359 L350,353 L349.5,346Z" fill="#f8f8f8" stroke="#1e1e1e" stroke-width="2.8" stroke-linejoin="round"/>
<ellipse cx="355.6" cy="349.5" rx="3.6" ry="5.4" transform="rotate(-20 355.6 349.5)" fill="none" stroke="#222" stroke-width="1.5"/>
<path d="M360,343 C362,347 362,353 360,357" stroke="#222" stroke-width="1.8" fill="none"/>
<path class="pf" style="stroke-width:1.4" d="M368,242 L371.5,236.2 C375,233.6 379.6,233.6 380.5,236.2 L378.6,239.2 Z M371.5,236.2 C374,237.6 377,238.6 378.6,239.2"/>
<ellipse class="pf" cx="364.4" cy="259.8" rx="6.6" ry="9" transform="rotate(-20 364.4 259.8)" style="stroke-width:1.5"/>
<ellipse class="pf" cx="363.2" cy="260.2" rx="6.6" ry="9" transform="rotate(-20 363.2 260.2)" style="stroke-width:1.5"/>
<ellipse class="p" cx="362" cy="260.6" rx="2.6" ry="3.6" transform="rotate(-20 362 260.6)" style="stroke-width:1.5"/>
<circle cx="362.3" cy="260.8" r="1" fill="#333"/>
<path class="pf" style="stroke-width:1.4" d="M338,268 L352,262.5 C355,262.5 357,266 355.5,269.5 L341,276Z"/>
<path d="M345.5,265.2 L352.5,262.6 L353.5,264.4 L346.5,267.2Z M347.5,272.6 L355,269.2 L355.6,270.6 L348.4,274Z" fill="#333"/>
<path class="p" d="M349,268.4 L351,267.6 M350,270 L352,269"/>
<ellipse class="pf" cx="333.6" cy="273.6" rx="6" ry="8.2" transform="rotate(-20 333.6 273.6)" style="stroke-width:1.5"/>
<ellipse class="pf" cx="331.8" cy="274.2" rx="5.6" ry="8" transform="rotate(-20 331.8 274.2)" style="stroke-width:1.4"/>
</g>
<!-- LEADERS LEFT -->
<g id="leadL">
<polyline class="ld" points="47.5,134.5 401,134.5 498,232"/>
<polyline class="ldb" points="47.5,155.5 330,155.5 385,197.5"/>
<polyline class="ld" points="47.5,174.7 312,174.7 374,233.4"/>
<polyline class="ld" points="47.5,198.4 295,198.4 357.3,252.6"/>
<polyline class="ld" points="47.5,218.3 279,218.3 334.2,266.8"/>
<polyline class="ldb" points="47.5,258.7 154,258.7"/>
<polyline class="ld" points="47.5,537.3 136.7,537.3 170.7,544"/>
<polyline class="ld" points="47.5,557.3 154,557.3"/>
<polyline class="ldb" points="47.5,579 243,579 307,553"/>
</g>
<g id="lblL" class="lb">
<text x="33" y="141">1</text>
<text x="33" y="162">2</text>
<text x="33" y="183">3</text>
<text x="33" y="204.3">4</text>
<text x="33" y="225">5</text>
<text x="33" y="265">6</text>
<text x="33" y="544">7</text>
<text x="33" y="565">8</text>
<text x="33" y="586">9</text>
</g>

<!-- LEADERS RIGHT -->
<g id="leadR">
<polyline class="ld" points="735,115.5 846,115.5"/>
<polyline class="ld" points="715,129 755,140 846,140"/>
<polyline class="ld" points="764,167.5 846,167.5"/>
<polyline class="ldb" points="712,233 846,233"/>
<polyline class="ld" points="740,280 846,280"/>
<polyline class="ld" points="715,294 755,304.8 846,304.8"/>
<polyline class="ldb" points="762,328.7 846,328.7"/>
<polyline class="ld" points="604.5,381 846,381"/>
<polyline class="ldb" points="580,394 612,402.6 846,402.6"/>
<polyline class="ldb" points="519,380 560,422.5 846,422.5"/>
<polyline class="ld" points="443,339 544,444 843.5,444"/>
<polyline class="ldb" style="stroke-width:1.5" points="440,374 527.5,467 821,467"/>
<polyline class="ldb" points="484,452 521,488 843.5,488"/>
<polyline class="ld" points="471,472 511,512 774.5,512"/>
<polyline class="ld" points="358,359 501,537 843.5,537"/>
</g>
<g id="lblR" class="lb" text-anchor="end">
<text x="868.6" y="120.9">10</text>
<text x="868.6" y="144.9">11</text>
<text x="868.6" y="172.8">12</text>
<text x="868.6" y="238.1">13</text>
<text x="868.6" y="286">14</text>
<text x="868.6" y="310.5">15</text>
<text x="868.6" y="334.3">16</text>
<text x="868.6" y="387">17</text>
<text x="868.6" y="408.3">18</text>
<text x="868.6" y="429">19</text>
<text x="868.6" y="450">20</text>
<text x="868.6" y="473">A620</text>
<text x="868.6" y="494">21</text>
<text x="868.6" y="518">A122,A124</text>
<text x="868.6" y="543">22</text>
</g>

<g id="wm" class="wm">
<path d="M348,385 L384,297 L412,297 L449,385 L421,385 L412,362 L384,362 L375,385 Z M398,318 L386,348 L410,348 Z"/>
<path d="M458,297 L520,297 C540,297 548,307 548,319 C548,330 543,336 536,339 C546,342 551,350 551,361 C551,375 541,385 520,385 L458,385 Z M482,313 L514,313 C521,313 524,316 524,321 C524,327 521,330 514,330 L482,330 Z M482,346 L516,346 C524,346 527,350 527,357 C527,364 524,368 516,368 L482,368 Z"/>
<path d="M567,297 L642,297 L642,314 L609,314 L609,385 L590,385 L590,314 L556,317 Z"/>
<ellipse cx="700" cy="339.5" rx="51" ry="47.5"/><ellipse cx="700" cy="341" rx="32.5" ry="31"/>
<path d="M346.7,455.3 L369.4,399.2 L386.1,399.2 L411.1,455.3 L395,455.3 C394.6,448 393,443 391.1,440.3 L366.1,440.3 C364,443 362.6,448 362.2,455.3 Z M378.3,413.1 L370.6,430.3 L386.1,430.3 Z"/>
<path d="M411.1,455.3 L436.7,399.6 L453.3,399.6 L482,455.3 L462,455.3 L445.6,416 L430,455.3 Z"/>
<path d="M496.5,399 L505,399 L505,418 L525,418 C538,418 543,426 543,436 C543,447 538,455 525,455 L496.5,455 Z M505,427 L524,427 C530,427 532,431 532,436 C532,442 530,446 524,446 L505,446 Z"/>
<path d="M611,399 L611,455 L595,455 L595,436 L583,436 L566,455 L547,455 L566,434 C556,432 551,426 551,417 C551,406 558,399 572,399 Z M595,410 L574,410 C568,410 566,413 566,417 C566,422 568,425 574,425 L595,425 Z"/>
<path d="M618,399 L634,399 L634,419 L666,419 L666,399 L682,399 L682,455 L666,455 L666,430 L634,430 L634,455 L618,455 Z"/>
<path d="M749,405 C743,400.5 733,397.2 721,397.2 C702,397.2 689.6,410 689.6,426.6 C689.6,444 702,456.2 721,456.2 C733,456.2 743,452 747.6,447 L748.6,435 C744,441 735,445.6 723,445.6 C710,445.6 702,438 702,427 C702,416 710,408.2 723,408.2 C733,408.2 740,411.6 745.7,417.8 Z"/>
<g style="stroke:#585858;stroke-width:0.95">
<path d="M172.2,354.4 L236,354.4 L230,364.4 L165.6,364.4Z"/>
<path d="M162.2,370 L229,370 L223,380 L155.6,380Z"/>
<path d="M153.3,385.6 L219,385.6 L213,398.9 L148.9,398.9Z"/>
<path d="M215,404.4 L148.9,404.4 L173.3,455.6 L246.7,455.6 M224.4,418.9 L167.8,418.9 L187.8,455.6 M222,425.6 L176.7,425.6 L192,455.6 M237.8,443.3 L194.4,443.3 L201.1,455.6 M197.8,446.7 L246.7,446.7"/>
<path d="M277.8,381.1 L324.4,381.1 L315.6,406.7 L271.1,406.7Z"/>
<path d="M280,410 L315.6,410 L305.6,426.7 L270,426.7Z"/>
<path d="M266.7,428.9 L303.3,428.9 L295.6,442.2 L257.8,442.2Z"/>
<path d="M255.6,444.4 L293.3,444.4 L285.6,455.6 L250,455.6Z"/>
<path d="M320,306 L345.8,296 L327.4,371.2 L324.4,381.1"/>
</g>
</g>

<!-- TABLE -->
<g id="table">
<line x1="30" y1="621.7" x2="870" y2="621.7" stroke="#333" stroke-width="1.8"/>
<line x1="30" y1="649.3" x2="870" y2="649.3" stroke="#333" stroke-width="1.8"/>
<line x1="774" y1="621.7" x2="774" y2="649.3" stroke="#333" stroke-width="1.6"/>
<text class="bt" x="212.3" y="643.4">ПРИВОД</text>
<text class="bt" x="303" y="643.4">ВАЛОВ</text>
<text class="bt" x="381.3" y="643.4">РАСПРЕДЕЛИТЕЛЬНЫХ</text>
<text class="bt" x="803.5" y="643.4">A142</text>
<text class="bc" x="31" y="671.4">21902-41</text>
<text class="bc" x="31" y="689.2">21902-42</text>
<text class="bc" x="157.5" y="671.4">21905-42</text>
<text class="bc" x="283.5" y="671.4">21907-41</text>
<text class="bc" x="283.5" y="689.2">21907-42</text>
<text class="bc" x="410" y="671.4">21917-41</text>
<text class="bc" x="410" y="689.2">21917-42</text>
</g>
</svg>
</body></html>
